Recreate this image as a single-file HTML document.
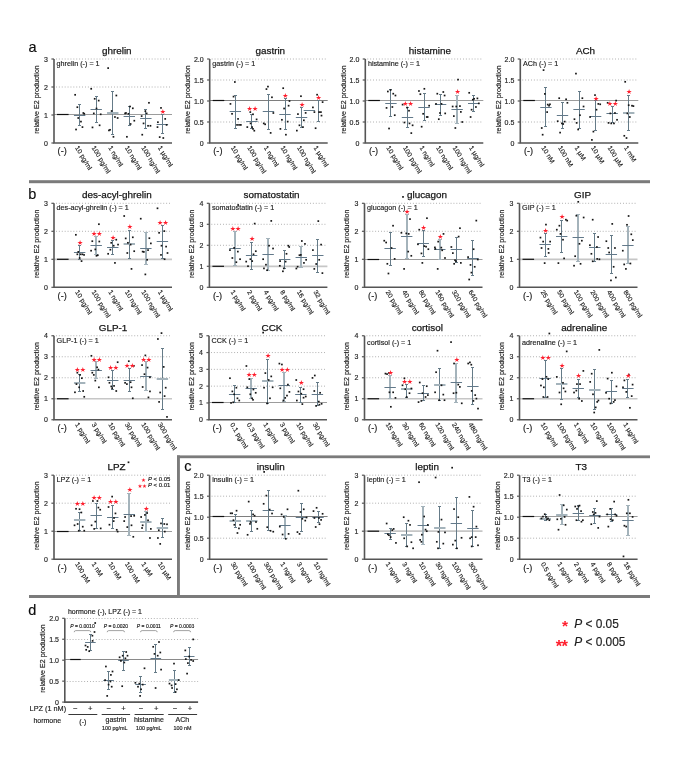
<!DOCTYPE html>
<html><head><meta charset="utf-8"><style>
html,body{margin:0;padding:0;background:#fff;}
svg{display:block;font-family:'Liberation Sans', Arial, Helvetica, sans-serif;}
text{stroke:#1a1a1a;stroke-width:0.16px;}
</style></head><body>
<svg width="685" height="765" viewBox="0 0 685 765">
<rect width="685" height="765" fill="#fff"/>
<rect x="29" y="180.2" width="621" height="3" fill="#7b7b7b"/>
<rect x="177" y="455.4" width="473" height="2.8" fill="#7b7b7b"/>
<rect x="177" y="455.4" width="2.9" height="142.5" fill="#7b7b7b"/>
<rect x="29" y="595" width="621" height="3" fill="#7b7b7b"/>
<text x="28.5" y="51.7" font-size="14.5" fill="#0a0a0a">a</text>
<text x="28.3" y="198.7" font-size="14.5" fill="#0a0a0a">b</text>
<text x="184.2" y="471.2" font-size="14.5" fill="#0a0a0a">c</text>
<text x="28.3" y="615.0" font-size="14.5" fill="#0a0a0a">d</text>
<text x="143.5" y="481.6" font-size="5.5" text-anchor="middle" fill="#ff1e2d" style="stroke:none" font-family="DejaVu Sans">★</text>
<text x="141.9" y="487.9" font-size="5.5" text-anchor="middle" fill="#ff1e2d" style="stroke:none" font-family="DejaVu Sans" letter-spacing="-0.5">★★</text>
<text x="147.9" y="481.4" font-size="6" fill="#1e1e1e"><tspan font-style="italic">P</tspan> &lt; 0.05</text>
<text x="147.9" y="487.4" font-size="6" fill="#1e1e1e"><tspan font-style="italic">P</tspan> &lt; 0.01</text>
<text x="564.9" y="631.0" font-size="15.5" font-weight="bold" text-anchor="middle" fill="#ff1e2d" style="stroke:none">*</text>
<text x="561.4" y="651.8" font-size="16.5" font-weight="bold" text-anchor="middle" fill="#ff1e2d" style="stroke:none" letter-spacing="-0.8">**</text>
<text x="574.2" y="628.2" font-size="11.9" fill="#1e1e1e"><tspan font-style="italic">P</tspan> &lt; 0.05</text>
<text x="574.2" y="645.7" font-size="11.9" fill="#1e1e1e"><tspan font-style="italic">P</tspan> &lt; 0.005</text>
<line x1="56.00" y1="87.00" x2="172.00" y2="87.00" stroke="#a0a0a0" stroke-width="0.9" stroke-dasharray="0.9 2.0"/>
<line x1="56.00" y1="59.00" x2="172.00" y2="59.00" stroke="#a0a0a0" stroke-width="0.9" stroke-dasharray="0.9 2.0"/>
<line x1="54.00" y1="114.50" x2="172.00" y2="114.50" stroke="#9c9c9c" stroke-width="1.1"/>
<line x1="57.00" y1="114.50" x2="68.60" y2="114.50" stroke="#111" stroke-width="1.2"/>
<line x1="79.50" y1="104.60" x2="79.50" y2="125.80" stroke="#657b88" stroke-width="1"/>
<line x1="78.00" y1="104.50" x2="81.00" y2="104.50" stroke="#657b88" stroke-width="1"/>
<line x1="78.00" y1="125.50" x2="81.00" y2="125.50" stroke="#657b88" stroke-width="1"/>
<line x1="73.95" y1="115.50" x2="85.35" y2="115.50" stroke="#62798a" stroke-width="1"/>
<rect x="74.30" y="93.95" width="1.70" height="1.70" fill="#161616"/>
<rect x="76.50" y="106.35" width="1.70" height="1.70" fill="#161616"/>
<rect x="77.40" y="117.15" width="1.70" height="1.70" fill="#161616"/>
<rect x="80.10" y="120.75" width="1.70" height="1.70" fill="#161616"/>
<rect x="81.60" y="126.25" width="1.70" height="1.70" fill="#161616"/>
<rect x="75.20" y="128.65" width="1.70" height="1.70" fill="#161616"/>
<rect x="82.50" y="112.15" width="1.70" height="1.70" fill="#161616"/>
<rect x="83.40" y="112.95" width="1.70" height="1.70" fill="#161616"/>
<line x1="96.50" y1="96.60" x2="96.50" y2="122.20" stroke="#657b88" stroke-width="1"/>
<line x1="95.00" y1="96.50" x2="98.00" y2="96.50" stroke="#657b88" stroke-width="1"/>
<line x1="95.00" y1="122.50" x2="98.00" y2="122.50" stroke="#657b88" stroke-width="1"/>
<line x1="90.50" y1="109.50" x2="101.90" y2="109.50" stroke="#62798a" stroke-width="1"/>
<rect x="90.35" y="87.95" width="1.70" height="1.70" fill="#161616"/>
<rect x="93.85" y="97.95" width="1.70" height="1.70" fill="#161616"/>
<rect x="97.85" y="99.75" width="1.70" height="1.70" fill="#161616"/>
<rect x="95.65" y="107.65" width="1.70" height="1.70" fill="#161616"/>
<rect x="92.95" y="112.55" width="1.70" height="1.70" fill="#161616"/>
<rect x="99.85" y="113.45" width="1.70" height="1.70" fill="#161616"/>
<rect x="91.65" y="126.55" width="1.70" height="1.70" fill="#161616"/>
<rect x="98.75" y="124.45" width="1.70" height="1.70" fill="#161616"/>
<line x1="112.50" y1="91.50" x2="112.50" y2="134.40" stroke="#657b88" stroke-width="1"/>
<line x1="111.00" y1="91.50" x2="114.00" y2="91.50" stroke="#657b88" stroke-width="1"/>
<line x1="111.00" y1="134.50" x2="114.00" y2="134.50" stroke="#657b88" stroke-width="1"/>
<line x1="107.05" y1="113.00" x2="118.45" y2="113.00" stroke="#a4b3bb" stroke-width="2"/>
<rect x="107.30" y="67.25" width="1.70" height="1.70" fill="#161616"/>
<rect x="115.50" y="94.65" width="1.70" height="1.70" fill="#161616"/>
<rect x="110.80" y="110.15" width="1.70" height="1.70" fill="#161616"/>
<rect x="114.10" y="116.15" width="1.70" height="1.70" fill="#161616"/>
<rect x="116.80" y="117.15" width="1.70" height="1.70" fill="#161616"/>
<rect x="109.20" y="128.95" width="1.70" height="1.70" fill="#161616"/>
<rect x="108.10" y="129.55" width="1.70" height="1.70" fill="#161616"/>
<rect x="112.60" y="135.95" width="1.70" height="1.70" fill="#161616"/>
<line x1="129.50" y1="106.50" x2="129.50" y2="125.30" stroke="#657b88" stroke-width="1"/>
<line x1="128.00" y1="106.50" x2="131.00" y2="106.50" stroke="#657b88" stroke-width="1"/>
<line x1="128.00" y1="125.50" x2="131.00" y2="125.50" stroke="#657b88" stroke-width="1"/>
<line x1="123.60" y1="116.50" x2="135.00" y2="116.50" stroke="#62798a" stroke-width="1"/>
<rect x="129.15" y="105.65" width="1.70" height="1.70" fill="#161616"/>
<rect x="131.95" y="107.45" width="1.70" height="1.70" fill="#161616"/>
<rect x="124.25" y="112.55" width="1.70" height="1.70" fill="#161616"/>
<rect x="127.55" y="112.95" width="1.70" height="1.70" fill="#161616"/>
<rect x="125.15" y="112.15" width="1.70" height="1.70" fill="#161616"/>
<rect x="133.45" y="119.85" width="1.70" height="1.70" fill="#161616"/>
<rect x="126.05" y="135.95" width="1.70" height="1.70" fill="#161616"/>
<rect x="129.75" y="123.15" width="1.70" height="1.70" fill="#161616"/>
<line x1="145.50" y1="109.40" x2="145.50" y2="128.00" stroke="#657b88" stroke-width="1"/>
<line x1="144.00" y1="109.50" x2="147.00" y2="109.50" stroke="#657b88" stroke-width="1"/>
<line x1="144.00" y1="128.50" x2="147.00" y2="128.50" stroke="#657b88" stroke-width="1"/>
<line x1="140.15" y1="118.50" x2="151.55" y2="118.50" stroke="#62798a" stroke-width="1"/>
<rect x="148.10" y="101.95" width="1.70" height="1.70" fill="#161616"/>
<rect x="144.50" y="110.35" width="1.70" height="1.70" fill="#161616"/>
<rect x="145.80" y="112.55" width="1.70" height="1.70" fill="#161616"/>
<rect x="140.80" y="115.25" width="1.70" height="1.70" fill="#161616"/>
<rect x="142.70" y="122.55" width="1.70" height="1.70" fill="#161616"/>
<rect x="147.20" y="124.95" width="1.70" height="1.70" fill="#161616"/>
<rect x="149.60" y="124.95" width="1.70" height="1.70" fill="#161616"/>
<rect x="141.40" y="133.85" width="1.70" height="1.70" fill="#161616"/>
<line x1="162.50" y1="114.90" x2="162.50" y2="133.80" stroke="#657b88" stroke-width="1"/>
<line x1="161.00" y1="114.50" x2="164.00" y2="114.50" stroke="#657b88" stroke-width="1"/>
<line x1="161.00" y1="133.50" x2="164.00" y2="133.50" stroke="#657b88" stroke-width="1"/>
<line x1="156.70" y1="124.50" x2="168.10" y2="124.50" stroke="#62798a" stroke-width="1"/>
<rect x="160.15" y="107.05" width="1.70" height="1.70" fill="#161616"/>
<rect x="164.35" y="118.05" width="1.70" height="1.70" fill="#161616"/>
<rect x="157.05" y="121.35" width="1.70" height="1.70" fill="#161616"/>
<rect x="165.75" y="124.05" width="1.70" height="1.70" fill="#161616"/>
<rect x="156.65" y="126.25" width="1.70" height="1.70" fill="#161616"/>
<rect x="158.85" y="136.25" width="1.70" height="1.70" fill="#161616"/>
<rect x="162.45" y="137.15" width="1.70" height="1.70" fill="#161616"/>
<text x="162.40" y="114.38" font-size="6.9" text-anchor="middle" fill="#ff1e2d" style="stroke:none" font-family="DejaVu Sans" letter-spacing="-0.9">★</text>
<path d="M54.00,59.00 V143.00 H172.00" fill="none" stroke="#555555" stroke-width="1.6"/>
<line x1="51.40" y1="143.00" x2="54.00" y2="143.00" stroke="#555555" stroke-width="1.2"/>
<text x="48.00" y="145.50" font-size="7" text-anchor="end" fill="#2a2a2a" >0</text>
<line x1="51.40" y1="115.00" x2="54.00" y2="115.00" stroke="#555555" stroke-width="1.2"/>
<text x="48.00" y="117.50" font-size="7" text-anchor="end" fill="#2a2a2a" >1</text>
<line x1="51.40" y1="87.00" x2="54.00" y2="87.00" stroke="#555555" stroke-width="1.2"/>
<text x="48.00" y="89.50" font-size="7" text-anchor="end" fill="#2a2a2a" >2</text>
<line x1="51.40" y1="59.00" x2="54.00" y2="59.00" stroke="#555555" stroke-width="1.2"/>
<text x="48.00" y="61.50" font-size="7" text-anchor="end" fill="#2a2a2a" >3</text>
<text transform="translate(38.90,99.50) rotate(-90)" font-size="7.1" text-anchor="middle" fill="#1e1e1e">relative E2 production</text>
<text x="116.80" y="53.90" font-size="9.9" text-anchor="middle" fill="#111" style="stroke-width:0.25px">ghrelin</text>
<text transform="translate(56.60,66.10) scale(0.93,1)" font-size="7.75" fill="#1e1e1e">ghrelin (-) = 1</text>
<text x="62.20" y="154.30" font-size="9.2" text-anchor="middle" fill="#1e1e1e" >(-)</text>
<text transform="translate(75.05,147.70) scale(0.9,1) rotate(57)" font-size="7.15" fill="#1e1e1e">10 pg/ml</text>
<text transform="translate(91.60,147.70) scale(0.9,1) rotate(57)" font-size="7.15" fill="#1e1e1e">100 pg/ml</text>
<text transform="translate(108.15,147.70) scale(0.9,1) rotate(57)" font-size="7.15" fill="#1e1e1e">1 ng/ml</text>
<text transform="translate(124.70,147.70) scale(0.9,1) rotate(57)" font-size="7.15" fill="#1e1e1e">10 ng/ml</text>
<text transform="translate(141.25,147.70) scale(0.9,1) rotate(57)" font-size="7.15" fill="#1e1e1e">100 ng/ml</text>
<text transform="translate(157.80,147.70) scale(0.9,1) rotate(57)" font-size="7.15" fill="#1e1e1e">1 µg/ml</text>
<line x1="211.70" y1="122.00" x2="327.70" y2="122.00" stroke="#a0a0a0" stroke-width="0.9" stroke-dasharray="0.9 2.0"/>
<line x1="211.70" y1="80.00" x2="327.70" y2="80.00" stroke="#a0a0a0" stroke-width="0.9" stroke-dasharray="0.9 2.0"/>
<line x1="211.70" y1="59.00" x2="327.70" y2="59.00" stroke="#a0a0a0" stroke-width="0.9" stroke-dasharray="0.9 2.0"/>
<line x1="209.70" y1="100.50" x2="327.70" y2="100.50" stroke="#7e7e7e" stroke-width="1.0"/>
<line x1="212.70" y1="100.50" x2="224.30" y2="100.50" stroke="#111" stroke-width="1.2"/>
<line x1="235.50" y1="95.10" x2="235.50" y2="128.40" stroke="#657b88" stroke-width="1"/>
<line x1="234.00" y1="95.50" x2="237.00" y2="95.50" stroke="#657b88" stroke-width="1"/>
<line x1="234.00" y1="128.50" x2="237.00" y2="128.50" stroke="#657b88" stroke-width="1"/>
<line x1="229.65" y1="111.50" x2="241.05" y2="111.50" stroke="#62798a" stroke-width="1"/>
<rect x="234.00" y="81.15" width="1.70" height="1.70" fill="#161616"/>
<rect x="232.70" y="95.75" width="1.70" height="1.70" fill="#161616"/>
<rect x="229.60" y="103.05" width="1.70" height="1.70" fill="#161616"/>
<rect x="231.20" y="112.95" width="1.70" height="1.70" fill="#161616"/>
<rect x="237.20" y="118.05" width="1.70" height="1.70" fill="#161616"/>
<rect x="238.20" y="124.05" width="1.70" height="1.70" fill="#161616"/>
<rect x="240.00" y="124.05" width="1.70" height="1.70" fill="#161616"/>
<rect x="236.20" y="124.05" width="1.70" height="1.70" fill="#161616"/>
<line x1="251.50" y1="114.30" x2="251.50" y2="128.40" stroke="#657b88" stroke-width="1"/>
<line x1="250.00" y1="114.50" x2="253.00" y2="114.50" stroke="#657b88" stroke-width="1"/>
<line x1="250.00" y1="128.50" x2="253.00" y2="128.50" stroke="#657b88" stroke-width="1"/>
<line x1="246.20" y1="121.50" x2="257.60" y2="121.50" stroke="#62798a" stroke-width="1"/>
<rect x="249.45" y="111.25" width="1.70" height="1.70" fill="#161616"/>
<rect x="252.15" y="113.45" width="1.70" height="1.70" fill="#161616"/>
<rect x="255.75" y="118.55" width="1.70" height="1.70" fill="#161616"/>
<rect x="246.45" y="126.25" width="1.70" height="1.70" fill="#161616"/>
<rect x="251.25" y="126.25" width="1.70" height="1.70" fill="#161616"/>
<rect x="252.15" y="128.05" width="1.70" height="1.70" fill="#161616"/>
<rect x="253.45" y="129.85" width="1.70" height="1.70" fill="#161616"/>
<rect x="249.75" y="122.55" width="1.70" height="1.70" fill="#161616"/>
<text x="251.90" y="111.28" font-size="6.9" text-anchor="middle" fill="#ff1e2d" style="stroke:none" font-family="DejaVu Sans" letter-spacing="-0.9">★★</text>
<line x1="268.50" y1="94.20" x2="268.50" y2="129.30" stroke="#657b88" stroke-width="1"/>
<line x1="267.00" y1="94.50" x2="270.00" y2="94.50" stroke="#657b88" stroke-width="1"/>
<line x1="267.00" y1="129.50" x2="270.00" y2="129.50" stroke="#657b88" stroke-width="1"/>
<line x1="262.75" y1="111.50" x2="274.15" y2="111.50" stroke="#62798a" stroke-width="1"/>
<rect x="267.10" y="85.75" width="1.70" height="1.70" fill="#161616"/>
<rect x="265.60" y="88.25" width="1.70" height="1.70" fill="#161616"/>
<rect x="271.10" y="96.45" width="1.70" height="1.70" fill="#161616"/>
<rect x="272.50" y="112.15" width="1.70" height="1.70" fill="#161616"/>
<rect x="262.90" y="122.55" width="1.70" height="1.70" fill="#161616"/>
<rect x="264.30" y="123.45" width="1.70" height="1.70" fill="#161616"/>
<rect x="269.80" y="132.05" width="1.70" height="1.70" fill="#161616"/>
<line x1="285.50" y1="98.80" x2="285.50" y2="129.30" stroke="#657b88" stroke-width="1"/>
<line x1="284.00" y1="98.50" x2="287.00" y2="98.50" stroke="#657b88" stroke-width="1"/>
<line x1="284.00" y1="129.50" x2="287.00" y2="129.50" stroke="#657b88" stroke-width="1"/>
<line x1="279.30" y1="114.50" x2="290.70" y2="114.50" stroke="#62798a" stroke-width="1"/>
<rect x="282.35" y="87.35" width="1.70" height="1.70" fill="#161616"/>
<rect x="288.65" y="100.15" width="1.70" height="1.70" fill="#161616"/>
<rect x="287.75" y="104.85" width="1.70" height="1.70" fill="#161616"/>
<rect x="283.25" y="107.65" width="1.70" height="1.70" fill="#161616"/>
<rect x="281.05" y="118.95" width="1.70" height="1.70" fill="#161616"/>
<rect x="286.85" y="120.75" width="1.70" height="1.70" fill="#161616"/>
<rect x="279.55" y="128.05" width="1.70" height="1.70" fill="#161616"/>
<rect x="285.05" y="133.85" width="1.70" height="1.70" fill="#161616"/>
<text x="285.00" y="97.98" font-size="6.9" text-anchor="middle" fill="#ff1e2d" style="stroke:none" font-family="DejaVu Sans" letter-spacing="-0.9">★</text>
<line x1="301.50" y1="107.40" x2="301.50" y2="127.60" stroke="#657b88" stroke-width="1"/>
<line x1="300.00" y1="107.50" x2="303.00" y2="107.50" stroke="#657b88" stroke-width="1"/>
<line x1="300.00" y1="127.50" x2="303.00" y2="127.50" stroke="#657b88" stroke-width="1"/>
<line x1="295.85" y1="117.50" x2="307.25" y2="117.50" stroke="#62798a" stroke-width="1"/>
<rect x="300.10" y="95.35" width="1.70" height="1.70" fill="#161616"/>
<rect x="297.10" y="113.25" width="1.70" height="1.70" fill="#161616"/>
<rect x="304.80" y="112.05" width="1.70" height="1.70" fill="#161616"/>
<rect x="303.00" y="119.45" width="1.70" height="1.70" fill="#161616"/>
<rect x="298.60" y="124.45" width="1.70" height="1.70" fill="#161616"/>
<rect x="302.10" y="126.25" width="1.70" height="1.70" fill="#161616"/>
<rect x="296.00" y="129.75" width="1.70" height="1.70" fill="#161616"/>
<text x="301.55" y="106.58" font-size="6.9" text-anchor="middle" fill="#ff1e2d" style="stroke:none" font-family="DejaVu Sans" letter-spacing="-0.9">★</text>
<line x1="318.50" y1="100.50" x2="318.50" y2="121.50" stroke="#657b88" stroke-width="1"/>
<line x1="317.00" y1="100.50" x2="320.00" y2="100.50" stroke="#657b88" stroke-width="1"/>
<line x1="317.00" y1="121.50" x2="320.00" y2="121.50" stroke="#657b88" stroke-width="1"/>
<line x1="303.70" y1="110.50" x2="315.10" y2="110.50" stroke="#62798a" stroke-width="1"/>
<rect x="316.25" y="93.85" width="1.70" height="1.70" fill="#161616"/>
<rect x="321.75" y="101.25" width="1.70" height="1.70" fill="#161616"/>
<rect x="312.05" y="106.55" width="1.70" height="1.70" fill="#161616"/>
<rect x="313.55" y="111.25" width="1.70" height="1.70" fill="#161616"/>
<rect x="318.25" y="111.25" width="1.70" height="1.70" fill="#161616"/>
<rect x="320.05" y="111.25" width="1.70" height="1.70" fill="#161616"/>
<rect x="320.65" y="114.75" width="1.70" height="1.70" fill="#161616"/>
<rect x="314.75" y="127.35" width="1.70" height="1.70" fill="#161616"/>
<text x="318.10" y="99.88" font-size="6.9" text-anchor="middle" fill="#ff1e2d" style="stroke:none" font-family="DejaVu Sans" letter-spacing="-0.9">★</text>
<path d="M209.70,59.00 V143.00 H327.70" fill="none" stroke="#555555" stroke-width="1.6"/>
<line x1="207.10" y1="143.00" x2="209.70" y2="143.00" stroke="#555555" stroke-width="1.2"/>
<text x="203.70" y="145.50" font-size="7" text-anchor="end" fill="#2a2a2a" >0</text>
<line x1="207.10" y1="122.00" x2="209.70" y2="122.00" stroke="#555555" stroke-width="1.2"/>
<text x="203.70" y="124.50" font-size="7" text-anchor="end" fill="#2a2a2a" >0.5</text>
<line x1="207.10" y1="101.00" x2="209.70" y2="101.00" stroke="#555555" stroke-width="1.2"/>
<text x="203.70" y="103.50" font-size="7" text-anchor="end" fill="#2a2a2a" >1.0</text>
<line x1="207.10" y1="80.00" x2="209.70" y2="80.00" stroke="#555555" stroke-width="1.2"/>
<text x="203.70" y="82.50" font-size="7" text-anchor="end" fill="#2a2a2a" >1.5</text>
<line x1="207.10" y1="59.00" x2="209.70" y2="59.00" stroke="#555555" stroke-width="1.2"/>
<text x="203.70" y="61.50" font-size="7" text-anchor="end" fill="#2a2a2a" >2.0</text>
<text transform="translate(190.40,99.50) rotate(-90)" font-size="7.1" text-anchor="middle" fill="#1e1e1e">relative E2 production</text>
<text x="270.30" y="53.90" font-size="9.9" text-anchor="middle" fill="#111" style="stroke-width:0.25px">gastrin</text>
<text transform="translate(212.30,66.10) scale(0.93,1)" font-size="7.75" fill="#1e1e1e">gastrin (-) = 1</text>
<text x="217.90" y="154.30" font-size="9.2" text-anchor="middle" fill="#1e1e1e" >(-)</text>
<text transform="translate(230.75,147.70) scale(0.9,1) rotate(57)" font-size="7.15" fill="#1e1e1e">10 pg/ml</text>
<text transform="translate(247.30,147.70) scale(0.9,1) rotate(57)" font-size="7.15" fill="#1e1e1e">100 pg/ml</text>
<text transform="translate(263.85,147.70) scale(0.9,1) rotate(57)" font-size="7.15" fill="#1e1e1e">1 ng/ml</text>
<text transform="translate(280.40,147.70) scale(0.9,1) rotate(57)" font-size="7.15" fill="#1e1e1e">10 ng/ml</text>
<text transform="translate(296.95,147.70) scale(0.9,1) rotate(57)" font-size="7.15" fill="#1e1e1e">100 ng/ml</text>
<text transform="translate(313.50,147.70) scale(0.9,1) rotate(57)" font-size="7.15" fill="#1e1e1e">1 µg/ml</text>
<line x1="367.30" y1="122.00" x2="483.30" y2="122.00" stroke="#a0a0a0" stroke-width="0.9" stroke-dasharray="0.9 2.0"/>
<line x1="367.30" y1="80.00" x2="483.30" y2="80.00" stroke="#a0a0a0" stroke-width="0.9" stroke-dasharray="0.9 2.0"/>
<line x1="367.30" y1="59.00" x2="483.30" y2="59.00" stroke="#a0a0a0" stroke-width="0.9" stroke-dasharray="0.9 2.0"/>
<line x1="365.30" y1="100.50" x2="483.30" y2="100.50" stroke="#9c9c9c" stroke-width="1.1"/>
<line x1="368.30" y1="100.50" x2="379.90" y2="100.50" stroke="#111" stroke-width="1.2"/>
<line x1="390.50" y1="89.70" x2="390.50" y2="116.50" stroke="#657b88" stroke-width="1"/>
<line x1="389.00" y1="89.50" x2="392.00" y2="89.50" stroke="#657b88" stroke-width="1"/>
<line x1="389.00" y1="116.50" x2="392.00" y2="116.50" stroke="#657b88" stroke-width="1"/>
<line x1="385.25" y1="103.50" x2="396.65" y2="103.50" stroke="#62798a" stroke-width="1"/>
<rect x="387.00" y="90.65" width="1.70" height="1.70" fill="#161616"/>
<rect x="389.70" y="89.15" width="1.70" height="1.70" fill="#161616"/>
<rect x="392.40" y="92.85" width="1.70" height="1.70" fill="#161616"/>
<rect x="394.60" y="94.65" width="1.70" height="1.70" fill="#161616"/>
<rect x="385.70" y="107.05" width="1.70" height="1.70" fill="#161616"/>
<rect x="391.50" y="106.15" width="1.70" height="1.70" fill="#161616"/>
<rect x="393.90" y="114.35" width="1.70" height="1.70" fill="#161616"/>
<rect x="388.20" y="127.65" width="1.70" height="1.70" fill="#161616"/>
<line x1="407.50" y1="107.90" x2="407.50" y2="127.10" stroke="#657b88" stroke-width="1"/>
<line x1="406.00" y1="107.50" x2="409.00" y2="107.50" stroke="#657b88" stroke-width="1"/>
<line x1="406.00" y1="127.50" x2="409.00" y2="127.50" stroke="#657b88" stroke-width="1"/>
<line x1="401.80" y1="117.50" x2="413.20" y2="117.50" stroke="#62798a" stroke-width="1"/>
<rect x="401.75" y="103.75" width="1.70" height="1.70" fill="#161616"/>
<rect x="406.25" y="106.75" width="1.70" height="1.70" fill="#161616"/>
<rect x="408.15" y="109.85" width="1.70" height="1.70" fill="#161616"/>
<rect x="403.55" y="121.65" width="1.70" height="1.70" fill="#161616"/>
<rect x="408.65" y="122.55" width="1.70" height="1.70" fill="#161616"/>
<rect x="411.75" y="124.45" width="1.70" height="1.70" fill="#161616"/>
<rect x="410.45" y="132.25" width="1.70" height="1.70" fill="#161616"/>
<text x="407.50" y="106.38" font-size="6.9" text-anchor="middle" fill="#ff1e2d" style="stroke:none" font-family="DejaVu Sans" letter-spacing="-0.9">★★</text>
<line x1="424.50" y1="93.30" x2="424.50" y2="120.70" stroke="#657b88" stroke-width="1"/>
<line x1="423.00" y1="93.50" x2="426.00" y2="93.50" stroke="#657b88" stroke-width="1"/>
<line x1="423.00" y1="120.50" x2="426.00" y2="120.50" stroke="#657b88" stroke-width="1"/>
<line x1="418.35" y1="107.50" x2="429.75" y2="107.50" stroke="#62798a" stroke-width="1"/>
<rect x="418.10" y="90.15" width="1.70" height="1.70" fill="#161616"/>
<rect x="423.50" y="87.95" width="1.70" height="1.70" fill="#161616"/>
<rect x="419.50" y="93.35" width="1.70" height="1.70" fill="#161616"/>
<rect x="428.30" y="104.85" width="1.70" height="1.70" fill="#161616"/>
<rect x="422.30" y="112.95" width="1.70" height="1.70" fill="#161616"/>
<rect x="425.90" y="116.15" width="1.70" height="1.70" fill="#161616"/>
<rect x="426.80" y="116.15" width="1.70" height="1.70" fill="#161616"/>
<rect x="420.80" y="125.85" width="1.70" height="1.70" fill="#161616"/>
<line x1="440.50" y1="94.20" x2="440.50" y2="115.20" stroke="#657b88" stroke-width="1"/>
<line x1="439.00" y1="94.50" x2="442.00" y2="94.50" stroke="#657b88" stroke-width="1"/>
<line x1="439.00" y1="115.50" x2="442.00" y2="115.50" stroke="#657b88" stroke-width="1"/>
<line x1="434.90" y1="104.50" x2="446.30" y2="104.50" stroke="#62798a" stroke-width="1"/>
<rect x="436.45" y="92.85" width="1.70" height="1.70" fill="#161616"/>
<rect x="442.45" y="91.15" width="1.70" height="1.70" fill="#161616"/>
<rect x="443.75" y="94.65" width="1.70" height="1.70" fill="#161616"/>
<rect x="435.15" y="103.05" width="1.70" height="1.70" fill="#161616"/>
<rect x="440.65" y="103.05" width="1.70" height="1.70" fill="#161616"/>
<rect x="439.15" y="112.15" width="1.70" height="1.70" fill="#161616"/>
<rect x="444.35" y="112.55" width="1.70" height="1.70" fill="#161616"/>
<rect x="437.95" y="118.35" width="1.70" height="1.70" fill="#161616"/>
<line x1="457.00" y1="95.10" x2="457.00" y2="123.40" stroke="#a4b3bb" stroke-width="2"/>
<line x1="455.00" y1="95.50" x2="459.00" y2="95.50" stroke="#a4b3bb" stroke-width="1"/>
<line x1="455.00" y1="123.50" x2="459.00" y2="123.50" stroke="#a4b3bb" stroke-width="1"/>
<line x1="451.45" y1="109.50" x2="462.85" y2="109.50" stroke="#62798a" stroke-width="1"/>
<rect x="457.20" y="78.75" width="1.70" height="1.70" fill="#161616"/>
<rect x="451.80" y="105.65" width="1.70" height="1.70" fill="#161616"/>
<rect x="455.40" y="105.65" width="1.70" height="1.70" fill="#161616"/>
<rect x="459.10" y="105.25" width="1.70" height="1.70" fill="#161616"/>
<rect x="460.00" y="111.05" width="1.70" height="1.70" fill="#161616"/>
<rect x="453.00" y="115.25" width="1.70" height="1.70" fill="#161616"/>
<rect x="461.40" y="121.15" width="1.70" height="1.70" fill="#161616"/>
<rect x="454.50" y="127.15" width="1.70" height="1.70" fill="#161616"/>
<text x="457.15" y="94.48" font-size="6.9" text-anchor="middle" fill="#ff1e2d" style="stroke:none" font-family="DejaVu Sans" letter-spacing="-0.9">★</text>
<line x1="473.50" y1="95.50" x2="473.50" y2="111.20" stroke="#657b88" stroke-width="1"/>
<line x1="472.00" y1="95.50" x2="475.00" y2="95.50" stroke="#657b88" stroke-width="1"/>
<line x1="472.00" y1="111.50" x2="475.00" y2="111.50" stroke="#657b88" stroke-width="1"/>
<line x1="468.00" y1="103.50" x2="479.40" y2="103.50" stroke="#62798a" stroke-width="1"/>
<rect x="468.35" y="91.95" width="1.70" height="1.70" fill="#161616"/>
<rect x="473.25" y="97.95" width="1.70" height="1.70" fill="#161616"/>
<rect x="476.55" y="97.55" width="1.70" height="1.70" fill="#161616"/>
<rect x="471.95" y="98.85" width="1.70" height="1.70" fill="#161616"/>
<rect x="477.95" y="102.55" width="1.70" height="1.70" fill="#161616"/>
<rect x="475.05" y="106.15" width="1.70" height="1.70" fill="#161616"/>
<rect x="470.75" y="108.85" width="1.70" height="1.70" fill="#161616"/>
<rect x="469.75" y="116.15" width="1.70" height="1.70" fill="#161616"/>
<path d="M365.30,59.00 V143.00 H483.30" fill="none" stroke="#555555" stroke-width="1.6"/>
<line x1="362.70" y1="143.00" x2="365.30" y2="143.00" stroke="#555555" stroke-width="1.2"/>
<text x="359.30" y="145.50" font-size="7" text-anchor="end" fill="#2a2a2a" >0</text>
<line x1="362.70" y1="122.00" x2="365.30" y2="122.00" stroke="#555555" stroke-width="1.2"/>
<text x="359.30" y="124.50" font-size="7" text-anchor="end" fill="#2a2a2a" >0.5</text>
<line x1="362.70" y1="101.00" x2="365.30" y2="101.00" stroke="#555555" stroke-width="1.2"/>
<text x="359.30" y="103.50" font-size="7" text-anchor="end" fill="#2a2a2a" >1.0</text>
<line x1="362.70" y1="80.00" x2="365.30" y2="80.00" stroke="#555555" stroke-width="1.2"/>
<text x="359.30" y="82.50" font-size="7" text-anchor="end" fill="#2a2a2a" >1.5</text>
<line x1="362.70" y1="59.00" x2="365.30" y2="59.00" stroke="#555555" stroke-width="1.2"/>
<text x="359.30" y="61.50" font-size="7" text-anchor="end" fill="#2a2a2a" >2.0</text>
<text transform="translate(346.00,99.50) rotate(-90)" font-size="7.1" text-anchor="middle" fill="#1e1e1e">relative E2 production</text>
<text x="429.90" y="53.90" font-size="9.9" text-anchor="middle" fill="#111" style="stroke-width:0.25px">histamine</text>
<text transform="translate(367.90,66.10) scale(0.93,1)" font-size="7.75" fill="#1e1e1e">histamine (-) = 1</text>
<text x="373.50" y="154.30" font-size="9.2" text-anchor="middle" fill="#1e1e1e" >(-)</text>
<text transform="translate(386.35,147.70) scale(0.9,1) rotate(57)" font-size="7.15" fill="#1e1e1e">10 pg/ml</text>
<text transform="translate(402.90,147.70) scale(0.9,1) rotate(57)" font-size="7.15" fill="#1e1e1e">100 pg/ml</text>
<text transform="translate(419.45,147.70) scale(0.9,1) rotate(57)" font-size="7.15" fill="#1e1e1e">1 ng/ml</text>
<text transform="translate(436.00,147.70) scale(0.9,1) rotate(57)" font-size="7.15" fill="#1e1e1e">10 ng/ml</text>
<text transform="translate(452.55,147.70) scale(0.9,1) rotate(57)" font-size="7.15" fill="#1e1e1e">100 ng/ml</text>
<text transform="translate(469.10,147.70) scale(0.9,1) rotate(57)" font-size="7.15" fill="#1e1e1e">1 µg/ml</text>
<line x1="522.30" y1="122.00" x2="638.30" y2="122.00" stroke="#a0a0a0" stroke-width="0.9" stroke-dasharray="0.9 2.0"/>
<line x1="522.30" y1="80.00" x2="638.30" y2="80.00" stroke="#a0a0a0" stroke-width="0.9" stroke-dasharray="0.9 2.0"/>
<line x1="522.30" y1="59.00" x2="638.30" y2="59.00" stroke="#a0a0a0" stroke-width="0.9" stroke-dasharray="0.9 2.0"/>
<line x1="520.30" y1="100.50" x2="638.30" y2="100.50" stroke="#9c9c9c" stroke-width="1.1"/>
<line x1="523.30" y1="100.50" x2="534.90" y2="100.50" stroke="#111" stroke-width="1.2"/>
<line x1="545.50" y1="87.30" x2="545.50" y2="126.70" stroke="#657b88" stroke-width="1"/>
<line x1="544.00" y1="87.50" x2="547.00" y2="87.50" stroke="#657b88" stroke-width="1"/>
<line x1="544.00" y1="126.50" x2="547.00" y2="126.50" stroke="#657b88" stroke-width="1"/>
<line x1="540.25" y1="107.50" x2="551.65" y2="107.50" stroke="#62798a" stroke-width="1"/>
<rect x="542.70" y="69.25" width="1.70" height="1.70" fill="#161616"/>
<rect x="544.00" y="93.05" width="1.70" height="1.70" fill="#161616"/>
<rect x="546.90" y="103.75" width="1.70" height="1.70" fill="#161616"/>
<rect x="548.20" y="104.85" width="1.70" height="1.70" fill="#161616"/>
<rect x="546.30" y="111.25" width="1.70" height="1.70" fill="#161616"/>
<rect x="540.90" y="127.15" width="1.70" height="1.70" fill="#161616"/>
<rect x="541.80" y="133.85" width="1.70" height="1.70" fill="#161616"/>
<rect x="549.10" y="103.45" width="1.70" height="1.70" fill="#161616"/>
<line x1="562.50" y1="102.40" x2="562.50" y2="128.40" stroke="#657b88" stroke-width="1"/>
<line x1="561.00" y1="102.50" x2="564.00" y2="102.50" stroke="#657b88" stroke-width="1"/>
<line x1="561.00" y1="128.50" x2="564.00" y2="128.50" stroke="#657b88" stroke-width="1"/>
<line x1="556.80" y1="115.50" x2="568.20" y2="115.50" stroke="#62798a" stroke-width="1"/>
<rect x="558.35" y="97.35" width="1.70" height="1.70" fill="#161616"/>
<rect x="565.25" y="98.45" width="1.70" height="1.70" fill="#161616"/>
<rect x="566.55" y="101.95" width="1.70" height="1.70" fill="#161616"/>
<rect x="556.85" y="120.35" width="1.70" height="1.70" fill="#161616"/>
<rect x="563.85" y="120.75" width="1.70" height="1.70" fill="#161616"/>
<rect x="562.35" y="123.15" width="1.70" height="1.70" fill="#161616"/>
<rect x="561.05" y="122.55" width="1.70" height="1.70" fill="#161616"/>
<rect x="559.25" y="131.75" width="1.70" height="1.70" fill="#161616"/>
<line x1="579.50" y1="91.50" x2="579.50" y2="128.90" stroke="#657b88" stroke-width="1"/>
<line x1="578.00" y1="91.50" x2="581.00" y2="91.50" stroke="#657b88" stroke-width="1"/>
<line x1="578.00" y1="128.50" x2="581.00" y2="128.50" stroke="#657b88" stroke-width="1"/>
<line x1="573.35" y1="109.50" x2="584.75" y2="109.50" stroke="#62798a" stroke-width="1"/>
<rect x="575.10" y="72.75" width="1.70" height="1.70" fill="#161616"/>
<rect x="581.50" y="97.35" width="1.70" height="1.70" fill="#161616"/>
<rect x="582.70" y="105.65" width="1.70" height="1.70" fill="#161616"/>
<rect x="579.10" y="114.35" width="1.70" height="1.70" fill="#161616"/>
<rect x="573.60" y="118.35" width="1.70" height="1.70" fill="#161616"/>
<rect x="575.80" y="122.05" width="1.70" height="1.70" fill="#161616"/>
<rect x="577.30" y="128.65" width="1.70" height="1.70" fill="#161616"/>
<line x1="595.50" y1="100.60" x2="595.50" y2="130.40" stroke="#657b88" stroke-width="1"/>
<line x1="594.00" y1="100.50" x2="597.00" y2="100.50" stroke="#657b88" stroke-width="1"/>
<line x1="594.00" y1="130.50" x2="597.00" y2="130.50" stroke="#657b88" stroke-width="1"/>
<line x1="589.90" y1="116.50" x2="601.30" y2="116.50" stroke="#62798a" stroke-width="1"/>
<rect x="594.15" y="94.25" width="1.70" height="1.70" fill="#161616"/>
<rect x="597.45" y="103.05" width="1.70" height="1.70" fill="#161616"/>
<rect x="599.35" y="103.45" width="1.70" height="1.70" fill="#161616"/>
<rect x="595.65" y="108.85" width="1.70" height="1.70" fill="#161616"/>
<rect x="589.25" y="116.15" width="1.70" height="1.70" fill="#161616"/>
<rect x="592.55" y="130.75" width="1.70" height="1.70" fill="#161616"/>
<rect x="591.05" y="139.05" width="1.70" height="1.70" fill="#161616"/>
<text x="595.60" y="100.88" font-size="6.9" text-anchor="middle" fill="#ff1e2d" style="stroke:none" font-family="DejaVu Sans" letter-spacing="-0.9">★</text>
<line x1="612.50" y1="106.10" x2="612.50" y2="122.20" stroke="#657b88" stroke-width="1"/>
<line x1="611.00" y1="106.50" x2="614.00" y2="106.50" stroke="#657b88" stroke-width="1"/>
<line x1="611.00" y1="122.50" x2="614.00" y2="122.50" stroke="#657b88" stroke-width="1"/>
<line x1="606.45" y1="113.50" x2="617.85" y2="113.50" stroke="#62798a" stroke-width="1"/>
<rect x="606.80" y="101.95" width="1.70" height="1.70" fill="#161616"/>
<rect x="615.30" y="99.75" width="1.70" height="1.70" fill="#161616"/>
<rect x="609.50" y="112.55" width="1.70" height="1.70" fill="#161616"/>
<rect x="614.10" y="112.15" width="1.70" height="1.70" fill="#161616"/>
<rect x="607.70" y="122.05" width="1.70" height="1.70" fill="#161616"/>
<rect x="610.40" y="122.55" width="1.70" height="1.70" fill="#161616"/>
<rect x="613.10" y="122.55" width="1.70" height="1.70" fill="#161616"/>
<rect x="616.20" y="118.95" width="1.70" height="1.70" fill="#161616"/>
<text x="612.15" y="105.88" font-size="6.9" text-anchor="middle" fill="#ff1e2d" style="stroke:none" font-family="DejaVu Sans" letter-spacing="-0.9">★★</text>
<line x1="628.50" y1="95.50" x2="628.50" y2="130.40" stroke="#657b88" stroke-width="1"/>
<line x1="627.00" y1="95.50" x2="630.00" y2="95.50" stroke="#657b88" stroke-width="1"/>
<line x1="627.00" y1="130.50" x2="630.00" y2="130.50" stroke="#657b88" stroke-width="1"/>
<line x1="623.00" y1="113.00" x2="634.40" y2="113.00" stroke="#a4b3bb" stroke-width="2"/>
<rect x="624.35" y="80.95" width="1.70" height="1.70" fill="#161616"/>
<rect x="627.85" y="104.35" width="1.70" height="1.70" fill="#161616"/>
<rect x="631.15" y="104.85" width="1.70" height="1.70" fill="#161616"/>
<rect x="632.55" y="105.25" width="1.70" height="1.70" fill="#161616"/>
<rect x="626.55" y="112.55" width="1.70" height="1.70" fill="#161616"/>
<rect x="628.95" y="116.15" width="1.70" height="1.70" fill="#161616"/>
<rect x="623.45" y="134.95" width="1.70" height="1.70" fill="#161616"/>
<rect x="625.65" y="137.15" width="1.70" height="1.70" fill="#161616"/>
<text x="628.70" y="93.98" font-size="6.9" text-anchor="middle" fill="#ff1e2d" style="stroke:none" font-family="DejaVu Sans" letter-spacing="-0.9">★</text>
<path d="M520.30,59.00 V143.00 H638.30" fill="none" stroke="#555555" stroke-width="1.6"/>
<line x1="517.70" y1="143.00" x2="520.30" y2="143.00" stroke="#555555" stroke-width="1.2"/>
<text x="514.30" y="145.50" font-size="7" text-anchor="end" fill="#2a2a2a" >0</text>
<line x1="517.70" y1="122.00" x2="520.30" y2="122.00" stroke="#555555" stroke-width="1.2"/>
<text x="514.30" y="124.50" font-size="7" text-anchor="end" fill="#2a2a2a" >0.5</text>
<line x1="517.70" y1="101.00" x2="520.30" y2="101.00" stroke="#555555" stroke-width="1.2"/>
<text x="514.30" y="103.50" font-size="7" text-anchor="end" fill="#2a2a2a" >1.0</text>
<line x1="517.70" y1="80.00" x2="520.30" y2="80.00" stroke="#555555" stroke-width="1.2"/>
<text x="514.30" y="82.50" font-size="7" text-anchor="end" fill="#2a2a2a" >1.5</text>
<line x1="517.70" y1="59.00" x2="520.30" y2="59.00" stroke="#555555" stroke-width="1.2"/>
<text x="514.30" y="61.50" font-size="7" text-anchor="end" fill="#2a2a2a" >2.0</text>
<text transform="translate(501.00,99.50) rotate(-90)" font-size="7.1" text-anchor="middle" fill="#1e1e1e">relative E2 production</text>
<text x="585.50" y="53.90" font-size="9.9" text-anchor="middle" fill="#111" style="stroke-width:0.25px">ACh</text>
<text transform="translate(522.90,66.10) scale(0.93,1)" font-size="7.75" fill="#1e1e1e">ACh (-) = 1</text>
<text x="528.50" y="154.30" font-size="9.2" text-anchor="middle" fill="#1e1e1e" >(-)</text>
<text transform="translate(541.35,147.70) scale(0.9,1) rotate(57)" font-size="7.15" fill="#1e1e1e">10 nM</text>
<text transform="translate(557.90,147.70) scale(0.9,1) rotate(57)" font-size="7.15" fill="#1e1e1e">100 nM</text>
<text transform="translate(574.45,147.70) scale(0.9,1) rotate(57)" font-size="7.15" fill="#1e1e1e">1 µM</text>
<text transform="translate(591.00,147.70) scale(0.9,1) rotate(57)" font-size="7.15" fill="#1e1e1e">10 µM</text>
<text transform="translate(607.55,147.70) scale(0.9,1) rotate(57)" font-size="7.15" fill="#1e1e1e">100 µM</text>
<text transform="translate(624.10,147.70) scale(0.9,1) rotate(57)" font-size="7.15" fill="#1e1e1e">1 mM</text>
<line x1="56.00" y1="231.30" x2="172.00" y2="231.30" stroke="#a0a0a0" stroke-width="0.9" stroke-dasharray="0.9 2.0"/>
<line x1="56.00" y1="203.30" x2="172.00" y2="203.30" stroke="#a0a0a0" stroke-width="0.9" stroke-dasharray="0.9 2.0"/>
<line x1="54.00" y1="259.30" x2="172.00" y2="259.30" stroke="#c6c6c6" stroke-width="1.7"/>
<line x1="57.00" y1="259.30" x2="68.60" y2="259.30" stroke="#111" stroke-width="1.2"/>
<line x1="79.50" y1="245.50" x2="79.50" y2="259.20" stroke="#657b88" stroke-width="1"/>
<line x1="78.00" y1="245.50" x2="81.00" y2="245.50" stroke="#657b88" stroke-width="1"/>
<line x1="78.00" y1="259.50" x2="81.00" y2="259.50" stroke="#657b88" stroke-width="1"/>
<line x1="73.95" y1="252.50" x2="85.35" y2="252.50" stroke="#62798a" stroke-width="1"/>
<rect x="75.00" y="233.95" width="1.70" height="1.70" fill="#161616"/>
<rect x="77.40" y="251.05" width="1.70" height="1.70" fill="#161616"/>
<rect x="79.80" y="253.45" width="1.70" height="1.70" fill="#161616"/>
<rect x="81.60" y="253.45" width="1.70" height="1.70" fill="#161616"/>
<rect x="83.20" y="254.05" width="1.70" height="1.70" fill="#161616"/>
<rect x="76.50" y="253.45" width="1.70" height="1.70" fill="#161616"/>
<rect x="78.80" y="257.15" width="1.70" height="1.70" fill="#161616"/>
<rect x="80.70" y="260.25" width="1.70" height="1.70" fill="#161616"/>
<text x="79.65" y="245.28" font-size="6.9" text-anchor="middle" fill="#ff1e2d" style="stroke:none" font-family="DejaVu Sans" letter-spacing="-0.9">★</text>
<line x1="96.00" y1="236.10" x2="96.00" y2="254.90" stroke="#a4b3bb" stroke-width="2"/>
<line x1="94.00" y1="236.50" x2="98.00" y2="236.50" stroke="#a4b3bb" stroke-width="1"/>
<line x1="94.00" y1="254.50" x2="98.00" y2="254.50" stroke="#a4b3bb" stroke-width="1"/>
<line x1="90.50" y1="245.50" x2="101.90" y2="245.50" stroke="#62798a" stroke-width="1"/>
<rect x="98.05" y="223.35" width="1.70" height="1.70" fill="#161616"/>
<rect x="91.45" y="240.35" width="1.70" height="1.70" fill="#161616"/>
<rect x="98.45" y="240.65" width="1.70" height="1.70" fill="#161616"/>
<rect x="94.45" y="248.55" width="1.70" height="1.70" fill="#161616"/>
<rect x="90.25" y="249.85" width="1.70" height="1.70" fill="#161616"/>
<rect x="96.95" y="254.35" width="1.70" height="1.70" fill="#161616"/>
<rect x="95.65" y="254.95" width="1.70" height="1.70" fill="#161616"/>
<text x="96.20" y="235.78" font-size="6.9" text-anchor="middle" fill="#ff1e2d" style="stroke:none" font-family="DejaVu Sans" letter-spacing="-0.9">★★</text>
<line x1="112.50" y1="240.60" x2="112.50" y2="254.30" stroke="#657b88" stroke-width="1"/>
<line x1="111.00" y1="240.50" x2="114.00" y2="240.50" stroke="#657b88" stroke-width="1"/>
<line x1="111.00" y1="254.50" x2="114.00" y2="254.50" stroke="#657b88" stroke-width="1"/>
<line x1="107.05" y1="247.50" x2="118.45" y2="247.50" stroke="#62798a" stroke-width="1"/>
<rect x="115.40" y="238.85" width="1.70" height="1.70" fill="#161616"/>
<rect x="110.40" y="241.95" width="1.70" height="1.70" fill="#161616"/>
<rect x="117.20" y="243.75" width="1.70" height="1.70" fill="#161616"/>
<rect x="112.80" y="244.85" width="1.70" height="1.70" fill="#161616"/>
<rect x="109.50" y="248.85" width="1.70" height="1.70" fill="#161616"/>
<rect x="107.30" y="252.95" width="1.70" height="1.70" fill="#161616"/>
<rect x="114.10" y="262.05" width="1.70" height="1.70" fill="#161616"/>
<text x="112.75" y="239.78" font-size="6.9" text-anchor="middle" fill="#ff1e2d" style="stroke:none" font-family="DejaVu Sans" letter-spacing="-0.9">★</text>
<line x1="129.50" y1="230.20" x2="129.50" y2="258.00" stroke="#657b88" stroke-width="1"/>
<line x1="128.00" y1="230.50" x2="131.00" y2="230.50" stroke="#657b88" stroke-width="1"/>
<line x1="128.00" y1="258.50" x2="131.00" y2="258.50" stroke="#657b88" stroke-width="1"/>
<line x1="123.60" y1="244.00" x2="135.00" y2="244.00" stroke="#a4b3bb" stroke-width="2"/>
<rect x="123.35" y="215.15" width="1.70" height="1.70" fill="#161616"/>
<rect x="124.85" y="237.55" width="1.70" height="1.70" fill="#161616"/>
<rect x="131.95" y="236.45" width="1.70" height="1.70" fill="#161616"/>
<rect x="127.05" y="241.95" width="1.70" height="1.70" fill="#161616"/>
<rect x="129.75" y="243.75" width="1.70" height="1.70" fill="#161616"/>
<rect x="133.35" y="250.35" width="1.70" height="1.70" fill="#161616"/>
<rect x="126.45" y="252.15" width="1.70" height="1.70" fill="#161616"/>
<rect x="130.65" y="268.05" width="1.70" height="1.70" fill="#161616"/>
<text x="129.30" y="229.38" font-size="6.9" text-anchor="middle" fill="#ff1e2d" style="stroke:none" font-family="DejaVu Sans" letter-spacing="-0.9">★</text>
<line x1="146.00" y1="232.00" x2="146.00" y2="264.30" stroke="#a4b3bb" stroke-width="2"/>
<line x1="144.00" y1="232.50" x2="148.00" y2="232.50" stroke="#a4b3bb" stroke-width="1"/>
<line x1="144.00" y1="264.50" x2="148.00" y2="264.50" stroke="#a4b3bb" stroke-width="1"/>
<line x1="140.15" y1="248.50" x2="151.55" y2="248.50" stroke="#62798a" stroke-width="1"/>
<rect x="139.90" y="217.85" width="1.70" height="1.70" fill="#161616"/>
<rect x="148.50" y="237.35" width="1.70" height="1.70" fill="#161616"/>
<rect x="150.00" y="242.55" width="1.70" height="1.70" fill="#161616"/>
<rect x="141.80" y="250.75" width="1.70" height="1.70" fill="#161616"/>
<rect x="143.00" y="251.05" width="1.70" height="1.70" fill="#161616"/>
<rect x="147.20" y="249.25" width="1.70" height="1.70" fill="#161616"/>
<rect x="146.30" y="258.95" width="1.70" height="1.70" fill="#161616"/>
<rect x="144.50" y="273.55" width="1.70" height="1.70" fill="#161616"/>
<line x1="162.50" y1="225.10" x2="162.50" y2="258.00" stroke="#657b88" stroke-width="1"/>
<line x1="161.00" y1="225.50" x2="164.00" y2="225.50" stroke="#657b88" stroke-width="1"/>
<line x1="161.00" y1="258.50" x2="164.00" y2="258.50" stroke="#657b88" stroke-width="1"/>
<line x1="156.70" y1="241.50" x2="168.10" y2="241.50" stroke="#62798a" stroke-width="1"/>
<rect x="156.65" y="207.45" width="1.70" height="1.70" fill="#161616"/>
<rect x="158.25" y="231.95" width="1.70" height="1.70" fill="#161616"/>
<rect x="163.45" y="230.25" width="1.70" height="1.70" fill="#161616"/>
<rect x="160.65" y="244.85" width="1.70" height="1.70" fill="#161616"/>
<rect x="165.25" y="245.75" width="1.70" height="1.70" fill="#161616"/>
<rect x="160.15" y="254.05" width="1.70" height="1.70" fill="#161616"/>
<rect x="166.65" y="252.15" width="1.70" height="1.70" fill="#161616"/>
<rect x="163.75" y="258.35" width="1.70" height="1.70" fill="#161616"/>
<text x="162.40" y="224.88" font-size="6.9" text-anchor="middle" fill="#ff1e2d" style="stroke:none" font-family="DejaVu Sans" letter-spacing="-0.9">★★</text>
<path d="M54.00,203.30 V287.30 H172.00" fill="none" stroke="#555555" stroke-width="1.6"/>
<line x1="51.40" y1="287.30" x2="54.00" y2="287.30" stroke="#555555" stroke-width="1.2"/>
<text x="48.00" y="289.80" font-size="7" text-anchor="end" fill="#2a2a2a" >0</text>
<line x1="51.40" y1="259.30" x2="54.00" y2="259.30" stroke="#555555" stroke-width="1.2"/>
<text x="48.00" y="261.80" font-size="7" text-anchor="end" fill="#2a2a2a" >1</text>
<line x1="51.40" y1="231.30" x2="54.00" y2="231.30" stroke="#555555" stroke-width="1.2"/>
<text x="48.00" y="233.80" font-size="7" text-anchor="end" fill="#2a2a2a" >2</text>
<line x1="51.40" y1="203.30" x2="54.00" y2="203.30" stroke="#555555" stroke-width="1.2"/>
<text x="48.00" y="205.80" font-size="7" text-anchor="end" fill="#2a2a2a" >3</text>
<text transform="translate(38.90,243.80) rotate(-90)" font-size="7.1" text-anchor="middle" fill="#1e1e1e">relative E2 production</text>
<text x="116.90" y="198.20" font-size="9.9" text-anchor="middle" fill="#111" style="stroke-width:0.25px">des-acyl-ghrelin</text>
<text transform="translate(56.60,210.40) scale(0.93,1)" font-size="7.75" fill="#1e1e1e">des-acyl-ghrelin (-) = 1</text>
<text x="62.20" y="298.60" font-size="9.2" text-anchor="middle" fill="#1e1e1e" >(-)</text>
<text transform="translate(75.05,292.00) scale(0.9,1) rotate(57)" font-size="7.15" fill="#1e1e1e">10 pg/ml</text>
<text transform="translate(91.60,292.00) scale(0.9,1) rotate(57)" font-size="7.15" fill="#1e1e1e">100 pg/ml</text>
<text transform="translate(108.15,292.00) scale(0.9,1) rotate(57)" font-size="7.15" fill="#1e1e1e">1 ng/ml</text>
<text transform="translate(124.70,292.00) scale(0.9,1) rotate(57)" font-size="7.15" fill="#1e1e1e">10 ng/ml</text>
<text transform="translate(141.25,292.00) scale(0.9,1) rotate(57)" font-size="7.15" fill="#1e1e1e">100 ng/ml</text>
<text transform="translate(157.80,292.00) scale(0.9,1) rotate(57)" font-size="7.15" fill="#1e1e1e">1 µg/ml</text>
<line x1="211.40" y1="245.30" x2="327.40" y2="245.30" stroke="#a0a0a0" stroke-width="0.9" stroke-dasharray="0.9 2.0"/>
<line x1="211.40" y1="224.30" x2="327.40" y2="224.30" stroke="#a0a0a0" stroke-width="0.9" stroke-dasharray="0.9 2.0"/>
<line x1="211.40" y1="203.30" x2="327.40" y2="203.30" stroke="#a0a0a0" stroke-width="0.9" stroke-dasharray="0.9 2.0"/>
<line x1="209.40" y1="266.30" x2="327.40" y2="266.30" stroke="#c6c6c6" stroke-width="1.7"/>
<line x1="212.40" y1="266.30" x2="224.00" y2="266.30" stroke="#111" stroke-width="1.2"/>
<line x1="235.00" y1="231.50" x2="235.00" y2="265.80" stroke="#a4b3bb" stroke-width="2"/>
<line x1="233.00" y1="231.50" x2="237.00" y2="231.50" stroke="#a4b3bb" stroke-width="1"/>
<line x1="233.00" y1="265.50" x2="237.00" y2="265.50" stroke="#a4b3bb" stroke-width="1"/>
<line x1="229.35" y1="248.50" x2="240.75" y2="248.50" stroke="#62798a" stroke-width="1"/>
<rect x="237.30" y="204.15" width="1.70" height="1.70" fill="#161616"/>
<rect x="229.10" y="249.25" width="1.70" height="1.70" fill="#161616"/>
<rect x="233.30" y="247.05" width="1.70" height="1.70" fill="#161616"/>
<rect x="237.00" y="250.75" width="1.70" height="1.70" fill="#161616"/>
<rect x="231.50" y="257.15" width="1.70" height="1.70" fill="#161616"/>
<rect x="235.50" y="261.35" width="1.70" height="1.70" fill="#161616"/>
<rect x="239.20" y="258.35" width="1.70" height="1.70" fill="#161616"/>
<text x="235.05" y="230.88" font-size="6.9" text-anchor="middle" fill="#ff1e2d" style="stroke:none" font-family="DejaVu Sans" letter-spacing="-0.9">★★</text>
<line x1="251.50" y1="242.10" x2="251.50" y2="269.50" stroke="#657b88" stroke-width="1"/>
<line x1="250.00" y1="242.50" x2="253.00" y2="242.50" stroke="#657b88" stroke-width="1"/>
<line x1="250.00" y1="269.50" x2="253.00" y2="269.50" stroke="#657b88" stroke-width="1"/>
<line x1="245.90" y1="255.50" x2="257.30" y2="255.50" stroke="#62798a" stroke-width="1"/>
<rect x="253.85" y="222.75" width="1.70" height="1.70" fill="#161616"/>
<rect x="254.95" y="250.35" width="1.70" height="1.70" fill="#161616"/>
<rect x="252.65" y="253.45" width="1.70" height="1.70" fill="#161616"/>
<rect x="245.35" y="260.75" width="1.70" height="1.70" fill="#161616"/>
<rect x="251.35" y="260.25" width="1.70" height="1.70" fill="#161616"/>
<rect x="249.55" y="258.35" width="1.70" height="1.70" fill="#161616"/>
<rect x="247.15" y="265.35" width="1.70" height="1.70" fill="#161616"/>
<text x="251.60" y="240.68" font-size="6.9" text-anchor="middle" fill="#ff1e2d" style="stroke:none" font-family="DejaVu Sans" letter-spacing="-0.9">★</text>
<line x1="268.00" y1="238.20" x2="268.00" y2="270.20" stroke="#a4b3bb" stroke-width="2"/>
<line x1="266.00" y1="238.50" x2="270.00" y2="238.50" stroke="#a4b3bb" stroke-width="1"/>
<line x1="266.00" y1="270.50" x2="270.00" y2="270.50" stroke="#a4b3bb" stroke-width="1"/>
<line x1="262.45" y1="254.50" x2="273.85" y2="254.50" stroke="#62798a" stroke-width="1"/>
<rect x="270.40" y="220.05" width="1.70" height="1.70" fill="#161616"/>
<rect x="268.20" y="244.85" width="1.70" height="1.70" fill="#161616"/>
<rect x="272.20" y="247.65" width="1.70" height="1.70" fill="#161616"/>
<rect x="262.30" y="258.35" width="1.70" height="1.70" fill="#161616"/>
<rect x="265.10" y="263.85" width="1.70" height="1.70" fill="#161616"/>
<rect x="263.10" y="267.55" width="1.70" height="1.70" fill="#161616"/>
<rect x="266.30" y="269.35" width="1.70" height="1.70" fill="#161616"/>
<line x1="284.50" y1="250.10" x2="284.50" y2="268.00" stroke="#657b88" stroke-width="1"/>
<line x1="283.00" y1="250.50" x2="286.00" y2="250.50" stroke="#657b88" stroke-width="1"/>
<line x1="283.00" y1="268.50" x2="286.00" y2="268.50" stroke="#657b88" stroke-width="1"/>
<line x1="279.00" y1="259.50" x2="290.40" y2="259.50" stroke="#62798a" stroke-width="1"/>
<rect x="287.45" y="244.85" width="1.70" height="1.70" fill="#161616"/>
<rect x="288.35" y="246.15" width="1.70" height="1.70" fill="#161616"/>
<rect x="285.65" y="252.95" width="1.70" height="1.70" fill="#161616"/>
<rect x="279.25" y="260.25" width="1.70" height="1.70" fill="#161616"/>
<rect x="284.75" y="260.75" width="1.70" height="1.70" fill="#161616"/>
<rect x="278.95" y="264.95" width="1.70" height="1.70" fill="#161616"/>
<rect x="282.95" y="267.55" width="1.70" height="1.70" fill="#161616"/>
<rect x="282.05" y="270.45" width="1.70" height="1.70" fill="#161616"/>
<line x1="301.00" y1="246.50" x2="301.00" y2="267.40" stroke="#a4b3bb" stroke-width="2"/>
<line x1="299.00" y1="246.50" x2="303.00" y2="246.50" stroke="#a4b3bb" stroke-width="1"/>
<line x1="299.00" y1="267.50" x2="303.00" y2="267.50" stroke="#a4b3bb" stroke-width="1"/>
<line x1="295.55" y1="257.50" x2="306.95" y2="257.50" stroke="#62798a" stroke-width="1"/>
<rect x="301.00" y="240.15" width="1.70" height="1.70" fill="#161616"/>
<rect x="304.10" y="243.05" width="1.70" height="1.70" fill="#161616"/>
<rect x="298.60" y="254.35" width="1.70" height="1.70" fill="#161616"/>
<rect x="300.00" y="254.05" width="1.70" height="1.70" fill="#161616"/>
<rect x="305.30" y="258.95" width="1.70" height="1.70" fill="#161616"/>
<rect x="303.10" y="262.05" width="1.70" height="1.70" fill="#161616"/>
<rect x="296.80" y="265.85" width="1.70" height="1.70" fill="#161616"/>
<rect x="295.50" y="267.65" width="1.70" height="1.70" fill="#161616"/>
<line x1="317.50" y1="239.20" x2="317.50" y2="272.20" stroke="#657b88" stroke-width="1"/>
<line x1="316.00" y1="239.50" x2="319.00" y2="239.50" stroke="#657b88" stroke-width="1"/>
<line x1="316.00" y1="272.50" x2="319.00" y2="272.50" stroke="#657b88" stroke-width="1"/>
<line x1="312.10" y1="255.50" x2="323.50" y2="255.50" stroke="#62798a" stroke-width="1"/>
<rect x="317.45" y="220.25" width="1.70" height="1.70" fill="#161616"/>
<rect x="320.25" y="243.75" width="1.70" height="1.70" fill="#161616"/>
<rect x="312.05" y="249.25" width="1.70" height="1.70" fill="#161616"/>
<rect x="318.35" y="258.95" width="1.70" height="1.70" fill="#161616"/>
<rect x="315.35" y="263.15" width="1.70" height="1.70" fill="#161616"/>
<rect x="313.45" y="268.05" width="1.70" height="1.70" fill="#161616"/>
<rect x="321.55" y="272.25" width="1.70" height="1.70" fill="#161616"/>
<path d="M209.40,203.30 V287.30 H327.40" fill="none" stroke="#555555" stroke-width="1.6"/>
<line x1="206.80" y1="287.30" x2="209.40" y2="287.30" stroke="#555555" stroke-width="1.2"/>
<text x="203.40" y="289.80" font-size="7" text-anchor="end" fill="#2a2a2a" >0</text>
<line x1="206.80" y1="266.30" x2="209.40" y2="266.30" stroke="#555555" stroke-width="1.2"/>
<text x="203.40" y="268.80" font-size="7" text-anchor="end" fill="#2a2a2a" >1</text>
<line x1="206.80" y1="245.30" x2="209.40" y2="245.30" stroke="#555555" stroke-width="1.2"/>
<text x="203.40" y="247.80" font-size="7" text-anchor="end" fill="#2a2a2a" >2</text>
<line x1="206.80" y1="224.30" x2="209.40" y2="224.30" stroke="#555555" stroke-width="1.2"/>
<text x="203.40" y="226.80" font-size="7" text-anchor="end" fill="#2a2a2a" >3</text>
<line x1="206.80" y1="203.30" x2="209.40" y2="203.30" stroke="#555555" stroke-width="1.2"/>
<text x="203.40" y="205.80" font-size="7" text-anchor="end" fill="#2a2a2a" >4</text>
<text transform="translate(194.30,243.80) rotate(-90)" font-size="7.1" text-anchor="middle" fill="#1e1e1e">relative E2 production</text>
<text x="271.60" y="198.20" font-size="9.9" text-anchor="middle" fill="#111" style="stroke-width:0.25px">somatostatin</text>
<text transform="translate(212.00,210.40) scale(0.93,1)" font-size="7.75" fill="#1e1e1e">somatostatin (-) = 1</text>
<text x="217.60" y="298.60" font-size="9.2" text-anchor="middle" fill="#1e1e1e" >(-)</text>
<text transform="translate(230.45,292.00) scale(0.9,1) rotate(57)" font-size="7.15" fill="#1e1e1e">1 pg/ml</text>
<text transform="translate(247.00,292.00) scale(0.9,1) rotate(57)" font-size="7.15" fill="#1e1e1e">2 pg/ml</text>
<text transform="translate(263.55,292.00) scale(0.9,1) rotate(57)" font-size="7.15" fill="#1e1e1e">4 pg/ml</text>
<text transform="translate(280.10,292.00) scale(0.9,1) rotate(57)" font-size="7.15" fill="#1e1e1e">8 pg/ml</text>
<text transform="translate(296.65,292.00) scale(0.9,1) rotate(57)" font-size="7.15" fill="#1e1e1e">16 pg/ml</text>
<text transform="translate(313.20,292.00) scale(0.9,1) rotate(57)" font-size="7.15" fill="#1e1e1e">32 pg/ml</text>
<line x1="366.50" y1="231.30" x2="482.50" y2="231.30" stroke="#a0a0a0" stroke-width="0.9" stroke-dasharray="0.9 2.0"/>
<line x1="366.50" y1="203.30" x2="482.50" y2="203.30" stroke="#a0a0a0" stroke-width="0.9" stroke-dasharray="0.9 2.0"/>
<line x1="364.50" y1="259.50" x2="482.50" y2="259.50" stroke="#9c9c9c" stroke-width="1.1"/>
<line x1="367.50" y1="259.50" x2="379.10" y2="259.50" stroke="#111" stroke-width="1.2"/>
<line x1="390.50" y1="232.10" x2="390.50" y2="265.30" stroke="#657b88" stroke-width="1"/>
<line x1="389.00" y1="232.50" x2="392.00" y2="232.50" stroke="#657b88" stroke-width="1"/>
<line x1="389.00" y1="265.50" x2="392.00" y2="265.50" stroke="#657b88" stroke-width="1"/>
<line x1="384.45" y1="248.50" x2="395.85" y2="248.50" stroke="#62798a" stroke-width="1"/>
<rect x="392.20" y="224.85" width="1.70" height="1.70" fill="#161616"/>
<rect x="383.40" y="239.85" width="1.70" height="1.70" fill="#161616"/>
<rect x="385.30" y="241.65" width="1.70" height="1.70" fill="#161616"/>
<rect x="390.70" y="247.15" width="1.70" height="1.70" fill="#161616"/>
<rect x="393.80" y="258.05" width="1.70" height="1.70" fill="#161616"/>
<rect x="386.50" y="262.95" width="1.70" height="1.70" fill="#161616"/>
<rect x="387.60" y="272.65" width="1.70" height="1.70" fill="#161616"/>
<line x1="407.00" y1="214.20" x2="407.00" y2="258.50" stroke="#a4b3bb" stroke-width="2"/>
<line x1="405.00" y1="214.50" x2="409.00" y2="214.50" stroke="#a4b3bb" stroke-width="1"/>
<line x1="405.00" y1="258.50" x2="409.00" y2="258.50" stroke="#a4b3bb" stroke-width="1"/>
<line x1="401.00" y1="236.50" x2="412.40" y2="236.50" stroke="#62798a" stroke-width="1"/>
<rect x="402.15" y="196.05" width="1.70" height="1.70" fill="#161616"/>
<rect x="409.15" y="218.25" width="1.70" height="1.70" fill="#161616"/>
<rect x="400.55" y="231.95" width="1.70" height="1.70" fill="#161616"/>
<rect x="405.45" y="232.55" width="1.70" height="1.70" fill="#161616"/>
<rect x="407.85" y="233.05" width="1.70" height="1.70" fill="#161616"/>
<rect x="407.35" y="250.75" width="1.70" height="1.70" fill="#161616"/>
<rect x="410.45" y="254.95" width="1.70" height="1.70" fill="#161616"/>
<rect x="403.25" y="268.05" width="1.70" height="1.70" fill="#161616"/>
<text x="406.70" y="214.28" font-size="6.9" text-anchor="middle" fill="#ff1e2d" style="stroke:none" font-family="DejaVu Sans" letter-spacing="-0.9">★</text>
<line x1="423.50" y1="230.60" x2="423.50" y2="256.20" stroke="#657b88" stroke-width="1"/>
<line x1="422.00" y1="230.50" x2="425.00" y2="230.50" stroke="#657b88" stroke-width="1"/>
<line x1="422.00" y1="256.50" x2="425.00" y2="256.50" stroke="#657b88" stroke-width="1"/>
<line x1="417.55" y1="243.50" x2="428.95" y2="243.50" stroke="#62798a" stroke-width="1"/>
<rect x="426.10" y="217.35" width="1.70" height="1.70" fill="#161616"/>
<rect x="418.40" y="228.85" width="1.70" height="1.70" fill="#161616"/>
<rect x="417.10" y="243.45" width="1.70" height="1.70" fill="#161616"/>
<rect x="423.50" y="245.25" width="1.70" height="1.70" fill="#161616"/>
<rect x="425.20" y="245.85" width="1.70" height="1.70" fill="#161616"/>
<rect x="427.50" y="248.35" width="1.70" height="1.70" fill="#161616"/>
<rect x="420.60" y="252.55" width="1.70" height="1.70" fill="#161616"/>
<rect x="421.50" y="262.05" width="1.70" height="1.70" fill="#161616"/>
<text x="423.25" y="229.78" font-size="6.9" text-anchor="middle" fill="#ff1e2d" style="stroke:none" font-family="DejaVu Sans" letter-spacing="-0.9">★</text>
<line x1="440.00" y1="239.40" x2="440.00" y2="259.80" stroke="#a4b3bb" stroke-width="2"/>
<line x1="438.00" y1="239.50" x2="442.00" y2="239.50" stroke="#a4b3bb" stroke-width="1"/>
<line x1="438.00" y1="259.50" x2="442.00" y2="259.50" stroke="#a4b3bb" stroke-width="1"/>
<line x1="434.10" y1="249.50" x2="445.50" y2="249.50" stroke="#62798a" stroke-width="1"/>
<rect x="442.65" y="233.05" width="1.70" height="1.70" fill="#161616"/>
<rect x="437.35" y="240.75" width="1.70" height="1.70" fill="#161616"/>
<rect x="434.05" y="246.55" width="1.70" height="1.70" fill="#161616"/>
<rect x="434.45" y="248.05" width="1.70" height="1.70" fill="#161616"/>
<rect x="440.45" y="246.75" width="1.70" height="1.70" fill="#161616"/>
<rect x="441.35" y="249.45" width="1.70" height="1.70" fill="#161616"/>
<rect x="444.15" y="257.15" width="1.70" height="1.70" fill="#161616"/>
<rect x="436.85" y="268.05" width="1.70" height="1.70" fill="#161616"/>
<text x="439.80" y="238.58" font-size="6.9" text-anchor="middle" fill="#ff1e2d" style="stroke:none" font-family="DejaVu Sans" letter-spacing="-0.9">★</text>
<line x1="456.50" y1="237.00" x2="456.50" y2="262.60" stroke="#657b88" stroke-width="1"/>
<line x1="455.00" y1="237.50" x2="458.00" y2="237.50" stroke="#657b88" stroke-width="1"/>
<line x1="455.00" y1="262.50" x2="458.00" y2="262.50" stroke="#657b88" stroke-width="1"/>
<line x1="450.65" y1="249.50" x2="462.05" y2="249.50" stroke="#62798a" stroke-width="1"/>
<rect x="459.10" y="227.35" width="1.70" height="1.70" fill="#161616"/>
<rect x="457.80" y="235.75" width="1.70" height="1.70" fill="#161616"/>
<rect x="450.50" y="246.15" width="1.70" height="1.70" fill="#161616"/>
<rect x="452.00" y="252.25" width="1.70" height="1.70" fill="#161616"/>
<rect x="454.20" y="259.35" width="1.70" height="1.70" fill="#161616"/>
<rect x="455.10" y="260.45" width="1.70" height="1.70" fill="#161616"/>
<rect x="453.30" y="262.95" width="1.70" height="1.70" fill="#161616"/>
<rect x="460.00" y="262.05" width="1.70" height="1.70" fill="#161616"/>
<line x1="472.50" y1="240.10" x2="472.50" y2="275.30" stroke="#657b88" stroke-width="1"/>
<line x1="471.00" y1="240.50" x2="474.00" y2="240.50" stroke="#657b88" stroke-width="1"/>
<line x1="471.00" y1="275.50" x2="474.00" y2="275.50" stroke="#657b88" stroke-width="1"/>
<line x1="467.20" y1="258.50" x2="478.60" y2="258.50" stroke="#62798a" stroke-width="1"/>
<rect x="475.45" y="219.75" width="1.70" height="1.70" fill="#161616"/>
<rect x="472.75" y="248.35" width="1.70" height="1.70" fill="#161616"/>
<rect x="467.25" y="256.25" width="1.70" height="1.70" fill="#161616"/>
<rect x="476.95" y="258.65" width="1.70" height="1.70" fill="#161616"/>
<rect x="469.65" y="264.05" width="1.70" height="1.70" fill="#161616"/>
<rect x="473.85" y="265.95" width="1.70" height="1.70" fill="#161616"/>
<rect x="470.55" y="271.75" width="1.70" height="1.70" fill="#161616"/>
<rect x="468.35" y="278.65" width="1.70" height="1.70" fill="#161616"/>
<path d="M364.50,203.30 V287.30 H482.50" fill="none" stroke="#555555" stroke-width="1.6"/>
<line x1="361.90" y1="287.30" x2="364.50" y2="287.30" stroke="#555555" stroke-width="1.2"/>
<text x="358.50" y="289.80" font-size="7" text-anchor="end" fill="#2a2a2a" >0</text>
<line x1="361.90" y1="259.30" x2="364.50" y2="259.30" stroke="#555555" stroke-width="1.2"/>
<text x="358.50" y="261.80" font-size="7" text-anchor="end" fill="#2a2a2a" >1</text>
<line x1="361.90" y1="231.30" x2="364.50" y2="231.30" stroke="#555555" stroke-width="1.2"/>
<text x="358.50" y="233.80" font-size="7" text-anchor="end" fill="#2a2a2a" >2</text>
<line x1="361.90" y1="203.30" x2="364.50" y2="203.30" stroke="#555555" stroke-width="1.2"/>
<text x="358.50" y="205.80" font-size="7" text-anchor="end" fill="#2a2a2a" >3</text>
<text transform="translate(349.40,243.80) rotate(-90)" font-size="7.1" text-anchor="middle" fill="#1e1e1e">relative E2 production</text>
<text x="427.00" y="198.20" font-size="9.9" text-anchor="middle" fill="#111" style="stroke-width:0.25px">glucagon</text>
<text transform="translate(367.10,210.40) scale(0.93,1)" font-size="7.75" fill="#1e1e1e">glucagon (-) = 1</text>
<text x="372.70" y="298.60" font-size="9.2" text-anchor="middle" fill="#1e1e1e" >(-)</text>
<text transform="translate(385.55,292.00) scale(0.9,1) rotate(57)" font-size="7.15" fill="#1e1e1e">20 pg/ml</text>
<text transform="translate(402.10,292.00) scale(0.9,1) rotate(57)" font-size="7.15" fill="#1e1e1e">40 pg/ml</text>
<text transform="translate(418.65,292.00) scale(0.9,1) rotate(57)" font-size="7.15" fill="#1e1e1e">80 pg/ml</text>
<text transform="translate(435.20,292.00) scale(0.9,1) rotate(57)" font-size="7.15" fill="#1e1e1e">160 pg/ml</text>
<text transform="translate(451.75,292.00) scale(0.9,1) rotate(57)" font-size="7.15" fill="#1e1e1e">320 pg/ml</text>
<text transform="translate(468.30,292.00) scale(0.9,1) rotate(57)" font-size="7.15" fill="#1e1e1e">640 pg/ml</text>
<line x1="521.50" y1="231.30" x2="637.50" y2="231.30" stroke="#a0a0a0" stroke-width="0.9" stroke-dasharray="0.9 2.0"/>
<line x1="521.50" y1="203.30" x2="637.50" y2="203.30" stroke="#a0a0a0" stroke-width="0.9" stroke-dasharray="0.9 2.0"/>
<line x1="519.50" y1="259.30" x2="637.50" y2="259.30" stroke="#c6c6c6" stroke-width="1.7"/>
<line x1="522.50" y1="259.30" x2="534.10" y2="259.30" stroke="#111" stroke-width="1.2"/>
<line x1="545.50" y1="233.40" x2="545.50" y2="256.20" stroke="#657b88" stroke-width="1"/>
<line x1="544.00" y1="233.50" x2="547.00" y2="233.50" stroke="#657b88" stroke-width="1"/>
<line x1="544.00" y1="256.50" x2="547.00" y2="256.50" stroke="#657b88" stroke-width="1"/>
<line x1="539.45" y1="244.50" x2="550.85" y2="244.50" stroke="#62798a" stroke-width="1"/>
<rect x="545.10" y="223.75" width="1.70" height="1.70" fill="#161616"/>
<rect x="539.60" y="236.75" width="1.70" height="1.70" fill="#161616"/>
<rect x="542.30" y="240.75" width="1.70" height="1.70" fill="#161616"/>
<rect x="549.30" y="240.75" width="1.70" height="1.70" fill="#161616"/>
<rect x="540.70" y="247.15" width="1.70" height="1.70" fill="#161616"/>
<rect x="547.50" y="248.05" width="1.70" height="1.70" fill="#161616"/>
<rect x="547.80" y="252.05" width="1.70" height="1.70" fill="#161616"/>
<rect x="543.80" y="262.25" width="1.70" height="1.70" fill="#161616"/>
<text x="545.15" y="232.58" font-size="6.9" text-anchor="middle" fill="#ff1e2d" style="stroke:none" font-family="DejaVu Sans" letter-spacing="-0.9">★</text>
<line x1="561.50" y1="220.20" x2="561.50" y2="252.90" stroke="#657b88" stroke-width="1"/>
<line x1="560.00" y1="220.50" x2="563.00" y2="220.50" stroke="#657b88" stroke-width="1"/>
<line x1="560.00" y1="252.50" x2="563.00" y2="252.50" stroke="#657b88" stroke-width="1"/>
<line x1="556.00" y1="236.50" x2="567.40" y2="236.50" stroke="#62798a" stroke-width="1"/>
<rect x="565.05" y="218.85" width="1.70" height="1.70" fill="#161616"/>
<rect x="566.35" y="219.75" width="1.70" height="1.70" fill="#161616"/>
<rect x="558.55" y="224.85" width="1.70" height="1.70" fill="#161616"/>
<rect x="555.95" y="228.85" width="1.70" height="1.70" fill="#161616"/>
<rect x="559.65" y="233.05" width="1.70" height="1.70" fill="#161616"/>
<rect x="562.15" y="238.85" width="1.70" height="1.70" fill="#161616"/>
<rect x="563.25" y="257.55" width="1.70" height="1.70" fill="#161616"/>
<rect x="557.55" y="262.25" width="1.70" height="1.70" fill="#161616"/>
<text x="561.70" y="219.38" font-size="6.9" text-anchor="middle" fill="#ff1e2d" style="stroke:none" font-family="DejaVu Sans" letter-spacing="-0.9">★</text>
<line x1="578.00" y1="214.20" x2="578.00" y2="261.30" stroke="#a4b3bb" stroke-width="2"/>
<line x1="576.00" y1="214.50" x2="580.00" y2="214.50" stroke="#a4b3bb" stroke-width="1"/>
<line x1="576.00" y1="261.50" x2="580.00" y2="261.50" stroke="#a4b3bb" stroke-width="1"/>
<line x1="572.55" y1="237.50" x2="583.95" y2="237.50" stroke="#62798a" stroke-width="1"/>
<rect x="577.40" y="200.95" width="1.70" height="1.70" fill="#161616"/>
<rect x="575.50" y="214.85" width="1.70" height="1.70" fill="#161616"/>
<rect x="582.80" y="216.65" width="1.70" height="1.70" fill="#161616"/>
<rect x="581.00" y="239.85" width="1.70" height="1.70" fill="#161616"/>
<rect x="578.60" y="242.95" width="1.70" height="1.70" fill="#161616"/>
<rect x="574.30" y="255.35" width="1.70" height="1.70" fill="#161616"/>
<rect x="573.20" y="264.85" width="1.70" height="1.70" fill="#161616"/>
<rect x="579.70" y="262.95" width="1.70" height="1.70" fill="#161616"/>
<line x1="594.50" y1="233.40" x2="594.50" y2="261.30" stroke="#657b88" stroke-width="1"/>
<line x1="593.00" y1="233.50" x2="596.00" y2="233.50" stroke="#657b88" stroke-width="1"/>
<line x1="593.00" y1="261.50" x2="596.00" y2="261.50" stroke="#657b88" stroke-width="1"/>
<line x1="589.10" y1="247.50" x2="600.50" y2="247.50" stroke="#62798a" stroke-width="1"/>
<rect x="591.85" y="218.85" width="1.70" height="1.70" fill="#161616"/>
<rect x="597.25" y="236.15" width="1.70" height="1.70" fill="#161616"/>
<rect x="589.05" y="244.35" width="1.70" height="1.70" fill="#161616"/>
<rect x="596.05" y="246.15" width="1.70" height="1.70" fill="#161616"/>
<rect x="590.55" y="252.95" width="1.70" height="1.70" fill="#161616"/>
<rect x="591.85" y="260.45" width="1.70" height="1.70" fill="#161616"/>
<rect x="596.35" y="258.05" width="1.70" height="1.70" fill="#161616"/>
<rect x="598.55" y="258.45" width="1.70" height="1.70" fill="#161616"/>
<line x1="611.50" y1="235.70" x2="611.50" y2="273.50" stroke="#657b88" stroke-width="1"/>
<line x1="610.00" y1="235.50" x2="613.00" y2="235.50" stroke="#657b88" stroke-width="1"/>
<line x1="610.00" y1="273.50" x2="613.00" y2="273.50" stroke="#657b88" stroke-width="1"/>
<line x1="605.65" y1="254.50" x2="617.05" y2="254.50" stroke="#62798a" stroke-width="1"/>
<rect x="611.40" y="223.05" width="1.70" height="1.70" fill="#161616"/>
<rect x="605.50" y="240.35" width="1.70" height="1.70" fill="#161616"/>
<rect x="607.40" y="247.15" width="1.70" height="1.70" fill="#161616"/>
<rect x="614.10" y="247.15" width="1.70" height="1.70" fill="#161616"/>
<rect x="608.30" y="251.65" width="1.70" height="1.70" fill="#161616"/>
<rect x="612.80" y="265.95" width="1.70" height="1.70" fill="#161616"/>
<rect x="615.00" y="276.65" width="1.70" height="1.70" fill="#161616"/>
<rect x="610.10" y="279.55" width="1.70" height="1.70" fill="#161616"/>
<line x1="628.00" y1="226.40" x2="628.00" y2="263.80" stroke="#a4b3bb" stroke-width="2"/>
<line x1="626.00" y1="226.50" x2="630.00" y2="226.50" stroke="#a4b3bb" stroke-width="1"/>
<line x1="626.00" y1="263.50" x2="630.00" y2="263.50" stroke="#a4b3bb" stroke-width="1"/>
<line x1="622.20" y1="245.50" x2="633.60" y2="245.50" stroke="#62798a" stroke-width="1"/>
<rect x="627.75" y="215.15" width="1.70" height="1.70" fill="#161616"/>
<rect x="626.15" y="223.95" width="1.70" height="1.70" fill="#161616"/>
<rect x="630.45" y="233.45" width="1.70" height="1.70" fill="#161616"/>
<rect x="631.95" y="239.25" width="1.70" height="1.70" fill="#161616"/>
<rect x="621.95" y="249.85" width="1.70" height="1.70" fill="#161616"/>
<rect x="623.35" y="263.55" width="1.70" height="1.70" fill="#161616"/>
<rect x="629.55" y="262.65" width="1.70" height="1.70" fill="#161616"/>
<rect x="625.05" y="268.05" width="1.70" height="1.70" fill="#161616"/>
<path d="M519.50,203.30 V287.30 H637.50" fill="none" stroke="#555555" stroke-width="1.6"/>
<line x1="516.90" y1="287.30" x2="519.50" y2="287.30" stroke="#555555" stroke-width="1.2"/>
<text x="513.50" y="289.80" font-size="7" text-anchor="end" fill="#2a2a2a" >0</text>
<line x1="516.90" y1="259.30" x2="519.50" y2="259.30" stroke="#555555" stroke-width="1.2"/>
<text x="513.50" y="261.80" font-size="7" text-anchor="end" fill="#2a2a2a" >1</text>
<line x1="516.90" y1="231.30" x2="519.50" y2="231.30" stroke="#555555" stroke-width="1.2"/>
<text x="513.50" y="233.80" font-size="7" text-anchor="end" fill="#2a2a2a" >2</text>
<line x1="516.90" y1="203.30" x2="519.50" y2="203.30" stroke="#555555" stroke-width="1.2"/>
<text x="513.50" y="205.80" font-size="7" text-anchor="end" fill="#2a2a2a" >3</text>
<text transform="translate(504.40,243.80) rotate(-90)" font-size="7.1" text-anchor="middle" fill="#1e1e1e">relative E2 production</text>
<text x="582.50" y="198.20" font-size="9.9" text-anchor="middle" fill="#111" style="stroke-width:0.25px">GIP</text>
<text transform="translate(522.10,210.40) scale(0.93,1)" font-size="7.75" fill="#1e1e1e">GIP (-) = 1</text>
<text x="527.70" y="298.60" font-size="9.2" text-anchor="middle" fill="#1e1e1e" >(-)</text>
<text transform="translate(540.55,292.00) scale(0.9,1) rotate(57)" font-size="7.15" fill="#1e1e1e">25 pg/ml</text>
<text transform="translate(557.10,292.00) scale(0.9,1) rotate(57)" font-size="7.15" fill="#1e1e1e">50 pg/ml</text>
<text transform="translate(573.65,292.00) scale(0.9,1) rotate(57)" font-size="7.15" fill="#1e1e1e">100 pg/ml</text>
<text transform="translate(590.20,292.00) scale(0.9,1) rotate(57)" font-size="7.15" fill="#1e1e1e">200 pg/ml</text>
<text transform="translate(606.75,292.00) scale(0.9,1) rotate(57)" font-size="7.15" fill="#1e1e1e">400 pg/ml</text>
<text transform="translate(623.30,292.00) scale(0.9,1) rotate(57)" font-size="7.15" fill="#1e1e1e">800 pg/ml</text>
<line x1="56.00" y1="377.75" x2="172.00" y2="377.75" stroke="#a0a0a0" stroke-width="0.9" stroke-dasharray="0.9 2.0"/>
<line x1="56.00" y1="356.75" x2="172.00" y2="356.75" stroke="#a0a0a0" stroke-width="0.9" stroke-dasharray="0.9 2.0"/>
<line x1="56.00" y1="335.75" x2="172.00" y2="335.75" stroke="#a0a0a0" stroke-width="0.9" stroke-dasharray="0.9 2.0"/>
<line x1="54.00" y1="398.75" x2="172.00" y2="398.75" stroke="#c6c6c6" stroke-width="1.7"/>
<line x1="57.00" y1="398.75" x2="68.60" y2="398.75" stroke="#111" stroke-width="1.2"/>
<line x1="79.50" y1="374.60" x2="79.50" y2="391.50" stroke="#657b88" stroke-width="1"/>
<line x1="78.00" y1="374.50" x2="81.00" y2="374.50" stroke="#657b88" stroke-width="1"/>
<line x1="78.00" y1="391.50" x2="81.00" y2="391.50" stroke="#657b88" stroke-width="1"/>
<line x1="73.95" y1="383.00" x2="85.35" y2="383.00" stroke="#a4b3bb" stroke-width="2"/>
<rect x="76.50" y="371.85" width="1.70" height="1.70" fill="#161616"/>
<rect x="79.20" y="374.05" width="1.70" height="1.70" fill="#161616"/>
<rect x="81.00" y="377.35" width="1.70" height="1.70" fill="#161616"/>
<rect x="75.60" y="383.25" width="1.70" height="1.70" fill="#161616"/>
<rect x="78.30" y="386.45" width="1.70" height="1.70" fill="#161616"/>
<rect x="82.30" y="390.15" width="1.70" height="1.70" fill="#161616"/>
<rect x="74.10" y="391.45" width="1.70" height="1.70" fill="#161616"/>
<rect x="83.40" y="395.95" width="1.70" height="1.70" fill="#161616"/>
<text x="79.65" y="371.98" font-size="6.9" text-anchor="middle" fill="#ff1e2d" style="stroke:none" font-family="DejaVu Sans" letter-spacing="-0.9">★★</text>
<line x1="96.00" y1="361.80" x2="96.00" y2="378.60" stroke="#a4b3bb" stroke-width="2"/>
<line x1="94.00" y1="361.50" x2="98.00" y2="361.50" stroke="#a4b3bb" stroke-width="1"/>
<line x1="94.00" y1="378.50" x2="98.00" y2="378.50" stroke="#a4b3bb" stroke-width="1"/>
<line x1="90.50" y1="370.50" x2="101.90" y2="370.50" stroke="#62798a" stroke-width="1"/>
<rect x="90.55" y="354.95" width="1.70" height="1.70" fill="#161616"/>
<rect x="91.45" y="371.85" width="1.70" height="1.70" fill="#161616"/>
<rect x="96.25" y="366.45" width="1.70" height="1.70" fill="#161616"/>
<rect x="97.55" y="368.75" width="1.70" height="1.70" fill="#161616"/>
<rect x="92.95" y="374.05" width="1.70" height="1.70" fill="#161616"/>
<rect x="94.45" y="379.75" width="1.70" height="1.70" fill="#161616"/>
<rect x="98.05" y="386.45" width="1.70" height="1.70" fill="#161616"/>
<text x="96.20" y="361.58" font-size="6.9" text-anchor="middle" fill="#ff1e2d" style="stroke:none" font-family="DejaVu Sans" letter-spacing="-0.9">★★</text>
<line x1="112.50" y1="370.90" x2="112.50" y2="389.20" stroke="#657b88" stroke-width="1"/>
<line x1="111.00" y1="370.50" x2="114.00" y2="370.50" stroke="#657b88" stroke-width="1"/>
<line x1="111.00" y1="389.50" x2="114.00" y2="389.50" stroke="#657b88" stroke-width="1"/>
<line x1="107.05" y1="380.50" x2="118.45" y2="380.50" stroke="#62798a" stroke-width="1"/>
<rect x="116.80" y="361.35" width="1.70" height="1.70" fill="#161616"/>
<rect x="107.70" y="376.45" width="1.70" height="1.70" fill="#161616"/>
<rect x="108.60" y="381.95" width="1.70" height="1.70" fill="#161616"/>
<rect x="110.40" y="385.55" width="1.70" height="1.70" fill="#161616"/>
<rect x="113.20" y="385.05" width="1.70" height="1.70" fill="#161616"/>
<rect x="111.30" y="387.45" width="1.70" height="1.70" fill="#161616"/>
<rect x="115.40" y="390.15" width="1.70" height="1.70" fill="#161616"/>
<text x="112.75" y="370.08" font-size="6.9" text-anchor="middle" fill="#ff1e2d" style="stroke:none" font-family="DejaVu Sans" letter-spacing="-0.9">★★</text>
<line x1="129.50" y1="368.20" x2="129.50" y2="391.40" stroke="#657b88" stroke-width="1"/>
<line x1="128.00" y1="368.50" x2="131.00" y2="368.50" stroke="#657b88" stroke-width="1"/>
<line x1="128.00" y1="391.50" x2="131.00" y2="391.50" stroke="#657b88" stroke-width="1"/>
<line x1="123.60" y1="380.50" x2="135.00" y2="380.50" stroke="#62798a" stroke-width="1"/>
<rect x="127.95" y="360.35" width="1.70" height="1.70" fill="#161616"/>
<rect x="133.05" y="364.95" width="1.70" height="1.70" fill="#161616"/>
<rect x="124.25" y="381.95" width="1.70" height="1.70" fill="#161616"/>
<rect x="126.05" y="383.25" width="1.70" height="1.70" fill="#161616"/>
<rect x="129.75" y="381.35" width="1.70" height="1.70" fill="#161616"/>
<rect x="130.65" y="386.45" width="1.70" height="1.70" fill="#161616"/>
<rect x="131.95" y="397.45" width="1.70" height="1.70" fill="#161616"/>
<text x="129.30" y="367.88" font-size="6.9" text-anchor="middle" fill="#ff1e2d" style="stroke:none" font-family="DejaVu Sans" letter-spacing="-0.9">★★</text>
<line x1="146.00" y1="361.80" x2="146.00" y2="390.40" stroke="#a4b3bb" stroke-width="2"/>
<line x1="144.00" y1="361.50" x2="148.00" y2="361.50" stroke="#a4b3bb" stroke-width="1"/>
<line x1="144.00" y1="390.50" x2="148.00" y2="390.50" stroke="#a4b3bb" stroke-width="1"/>
<line x1="140.15" y1="376.50" x2="151.55" y2="376.50" stroke="#62798a" stroke-width="1"/>
<rect x="144.50" y="354.55" width="1.70" height="1.70" fill="#161616"/>
<rect x="141.20" y="364.25" width="1.70" height="1.70" fill="#161616"/>
<rect x="146.70" y="366.75" width="1.70" height="1.70" fill="#161616"/>
<rect x="143.60" y="373.35" width="1.70" height="1.70" fill="#161616"/>
<rect x="149.10" y="376.45" width="1.70" height="1.70" fill="#161616"/>
<rect x="141.80" y="386.15" width="1.70" height="1.70" fill="#161616"/>
<rect x="149.10" y="390.55" width="1.70" height="1.70" fill="#161616"/>
<rect x="147.60" y="396.55" width="1.70" height="1.70" fill="#161616"/>
<text x="145.85" y="362.48" font-size="6.9" text-anchor="middle" fill="#ff1e2d" style="stroke:none" font-family="DejaVu Sans" letter-spacing="-0.9">★★</text>
<line x1="162.50" y1="348.50" x2="162.50" y2="409.20" stroke="#657b88" stroke-width="1"/>
<line x1="161.00" y1="348.50" x2="164.00" y2="348.50" stroke="#657b88" stroke-width="1"/>
<line x1="161.00" y1="409.50" x2="164.00" y2="409.50" stroke="#657b88" stroke-width="1"/>
<line x1="156.70" y1="379.00" x2="168.10" y2="379.00" stroke="#a4b3bb" stroke-width="2"/>
<rect x="160.65" y="332.25" width="1.70" height="1.70" fill="#161616"/>
<rect x="157.05" y="338.15" width="1.70" height="1.70" fill="#161616"/>
<rect x="162.85" y="366.05" width="1.70" height="1.70" fill="#161616"/>
<rect x="164.85" y="386.85" width="1.70" height="1.70" fill="#161616"/>
<rect x="159.35" y="391.65" width="1.70" height="1.70" fill="#161616"/>
<rect x="163.75" y="395.25" width="1.70" height="1.70" fill="#161616"/>
<rect x="158.25" y="401.05" width="1.70" height="1.70" fill="#161616"/>
<rect x="166.15" y="416.05" width="1.70" height="1.70" fill="#161616"/>
<path d="M54.00,335.75 V419.75 H172.00" fill="none" stroke="#555555" stroke-width="1.6"/>
<line x1="51.40" y1="419.75" x2="54.00" y2="419.75" stroke="#555555" stroke-width="1.2"/>
<text x="48.00" y="422.25" font-size="7" text-anchor="end" fill="#2a2a2a" >0</text>
<line x1="51.40" y1="398.75" x2="54.00" y2="398.75" stroke="#555555" stroke-width="1.2"/>
<text x="48.00" y="401.25" font-size="7" text-anchor="end" fill="#2a2a2a" >1</text>
<line x1="51.40" y1="377.75" x2="54.00" y2="377.75" stroke="#555555" stroke-width="1.2"/>
<text x="48.00" y="380.25" font-size="7" text-anchor="end" fill="#2a2a2a" >2</text>
<line x1="51.40" y1="356.75" x2="54.00" y2="356.75" stroke="#555555" stroke-width="1.2"/>
<text x="48.00" y="359.25" font-size="7" text-anchor="end" fill="#2a2a2a" >3</text>
<line x1="51.40" y1="335.75" x2="54.00" y2="335.75" stroke="#555555" stroke-width="1.2"/>
<text x="48.00" y="338.25" font-size="7" text-anchor="end" fill="#2a2a2a" >4</text>
<text transform="translate(38.90,376.25) rotate(-90)" font-size="7.1" text-anchor="middle" fill="#1e1e1e">relative E2 production</text>
<text x="113.00" y="330.65" font-size="9.9" text-anchor="middle" fill="#111" style="stroke-width:0.25px">GLP-1</text>
<text transform="translate(56.60,342.85) scale(0.93,1)" font-size="7.75" fill="#1e1e1e">GLP-1 (-) = 1</text>
<text x="62.20" y="431.05" font-size="9.2" text-anchor="middle" fill="#1e1e1e" >(-)</text>
<text transform="translate(75.05,424.45) scale(0.9,1) rotate(57)" font-size="7.15" fill="#1e1e1e">1 pg/ml</text>
<text transform="translate(91.60,424.45) scale(0.9,1) rotate(57)" font-size="7.15" fill="#1e1e1e">3 pg/ml</text>
<text transform="translate(108.15,424.45) scale(0.9,1) rotate(57)" font-size="7.15" fill="#1e1e1e">10 pg/ml</text>
<text transform="translate(124.70,424.45) scale(0.9,1) rotate(57)" font-size="7.15" fill="#1e1e1e">30 pg/ml</text>
<text transform="translate(141.25,424.45) scale(0.9,1) rotate(57)" font-size="7.15" fill="#1e1e1e">100 pg/ml</text>
<text transform="translate(157.80,424.45) scale(0.9,1) rotate(57)" font-size="7.15" fill="#1e1e1e">300 pg/ml</text>
<line x1="211.00" y1="386.15" x2="327.00" y2="386.15" stroke="#a0a0a0" stroke-width="0.9" stroke-dasharray="0.9 2.0"/>
<line x1="211.00" y1="369.35" x2="327.00" y2="369.35" stroke="#a0a0a0" stroke-width="0.9" stroke-dasharray="0.9 2.0"/>
<line x1="211.00" y1="352.55" x2="327.00" y2="352.55" stroke="#a0a0a0" stroke-width="0.9" stroke-dasharray="0.9 2.0"/>
<line x1="211.00" y1="335.75" x2="327.00" y2="335.75" stroke="#a0a0a0" stroke-width="0.9" stroke-dasharray="0.9 2.0"/>
<line x1="209.00" y1="402.50" x2="327.00" y2="402.50" stroke="#9c9c9c" stroke-width="1.1"/>
<line x1="212.00" y1="402.50" x2="223.60" y2="402.50" stroke="#111" stroke-width="1.2"/>
<line x1="234.50" y1="385.90" x2="234.50" y2="402.30" stroke="#657b88" stroke-width="1"/>
<line x1="233.00" y1="385.50" x2="236.00" y2="385.50" stroke="#657b88" stroke-width="1"/>
<line x1="233.00" y1="402.50" x2="236.00" y2="402.50" stroke="#657b88" stroke-width="1"/>
<line x1="228.95" y1="394.50" x2="240.35" y2="394.50" stroke="#62798a" stroke-width="1"/>
<rect x="229.10" y="377.35" width="1.70" height="1.70" fill="#161616"/>
<rect x="231.50" y="390.55" width="1.70" height="1.70" fill="#161616"/>
<rect x="235.50" y="386.85" width="1.70" height="1.70" fill="#161616"/>
<rect x="233.30" y="393.45" width="1.70" height="1.70" fill="#161616"/>
<rect x="236.60" y="397.45" width="1.70" height="1.70" fill="#161616"/>
<rect x="238.40" y="399.65" width="1.70" height="1.70" fill="#161616"/>
<rect x="232.40" y="401.45" width="1.70" height="1.70" fill="#161616"/>
<rect x="230.20" y="402.05" width="1.70" height="1.70" fill="#161616"/>
<line x1="251.00" y1="378.20" x2="251.00" y2="398.30" stroke="#a4b3bb" stroke-width="2"/>
<line x1="249.00" y1="378.50" x2="253.00" y2="378.50" stroke="#a4b3bb" stroke-width="1"/>
<line x1="249.00" y1="398.50" x2="253.00" y2="398.50" stroke="#a4b3bb" stroke-width="1"/>
<line x1="245.50" y1="388.50" x2="256.90" y2="388.50" stroke="#62798a" stroke-width="1"/>
<rect x="245.55" y="365.15" width="1.70" height="1.70" fill="#161616"/>
<rect x="248.45" y="378.25" width="1.70" height="1.70" fill="#161616"/>
<rect x="246.45" y="386.45" width="1.70" height="1.70" fill="#161616"/>
<rect x="252.55" y="388.65" width="1.70" height="1.70" fill="#161616"/>
<rect x="254.85" y="391.95" width="1.70" height="1.70" fill="#161616"/>
<rect x="249.45" y="393.45" width="1.70" height="1.70" fill="#161616"/>
<rect x="251.25" y="397.45" width="1.70" height="1.70" fill="#161616"/>
<rect x="252.15" y="398.95" width="1.70" height="1.70" fill="#161616"/>
<text x="251.20" y="377.38" font-size="6.9" text-anchor="middle" fill="#ff1e2d" style="stroke:none" font-family="DejaVu Sans" letter-spacing="-0.9">★★</text>
<line x1="267.50" y1="359.10" x2="267.50" y2="403.40" stroke="#657b88" stroke-width="1"/>
<line x1="266.00" y1="359.50" x2="269.00" y2="359.50" stroke="#657b88" stroke-width="1"/>
<line x1="266.00" y1="403.50" x2="269.00" y2="403.50" stroke="#657b88" stroke-width="1"/>
<line x1="262.05" y1="381.00" x2="273.45" y2="381.00" stroke="#a4b3bb" stroke-width="2"/>
<rect x="262.30" y="331.75" width="1.70" height="1.70" fill="#161616"/>
<rect x="264.50" y="372.25" width="1.70" height="1.70" fill="#161616"/>
<rect x="270.40" y="375.55" width="1.70" height="1.70" fill="#161616"/>
<rect x="267.80" y="379.15" width="1.70" height="1.70" fill="#161616"/>
<rect x="263.20" y="386.85" width="1.70" height="1.70" fill="#161616"/>
<rect x="271.80" y="386.45" width="1.70" height="1.70" fill="#161616"/>
<rect x="269.10" y="397.45" width="1.70" height="1.70" fill="#161616"/>
<rect x="266.30" y="402.55" width="1.70" height="1.70" fill="#161616"/>
<text x="267.75" y="358.48" font-size="6.9" text-anchor="middle" fill="#ff1e2d" style="stroke:none" font-family="DejaVu Sans" letter-spacing="-0.9">★</text>
<line x1="284.00" y1="372.20" x2="284.00" y2="401.00" stroke="#a4b3bb" stroke-width="2"/>
<line x1="282.00" y1="372.50" x2="286.00" y2="372.50" stroke="#a4b3bb" stroke-width="1"/>
<line x1="282.00" y1="401.50" x2="286.00" y2="401.50" stroke="#a4b3bb" stroke-width="1"/>
<line x1="278.60" y1="385.50" x2="290.00" y2="385.50" stroke="#62798a" stroke-width="1"/>
<rect x="278.55" y="362.75" width="1.70" height="1.70" fill="#161616"/>
<rect x="281.05" y="363.65" width="1.70" height="1.70" fill="#161616"/>
<rect x="287.05" y="383.75" width="1.70" height="1.70" fill="#161616"/>
<rect x="279.45" y="387.45" width="1.70" height="1.70" fill="#161616"/>
<rect x="288.55" y="391.05" width="1.70" height="1.70" fill="#161616"/>
<rect x="286.15" y="394.75" width="1.70" height="1.70" fill="#161616"/>
<rect x="284.35" y="397.05" width="1.70" height="1.70" fill="#161616"/>
<rect x="282.55" y="399.65" width="1.70" height="1.70" fill="#161616"/>
<text x="284.30" y="371.58" font-size="6.9" text-anchor="middle" fill="#ff1e2d" style="stroke:none" font-family="DejaVu Sans" letter-spacing="-0.9">★★</text>
<line x1="300.50" y1="387.00" x2="300.50" y2="402.30" stroke="#657b88" stroke-width="1"/>
<line x1="299.00" y1="387.50" x2="302.00" y2="387.50" stroke="#657b88" stroke-width="1"/>
<line x1="299.00" y1="402.50" x2="302.00" y2="402.50" stroke="#657b88" stroke-width="1"/>
<line x1="295.15" y1="394.50" x2="306.55" y2="394.50" stroke="#62798a" stroke-width="1"/>
<rect x="295.40" y="379.15" width="1.70" height="1.70" fill="#161616"/>
<rect x="302.70" y="388.35" width="1.70" height="1.70" fill="#161616"/>
<rect x="297.60" y="390.65" width="1.70" height="1.70" fill="#161616"/>
<rect x="300.40" y="392.85" width="1.70" height="1.70" fill="#161616"/>
<rect x="304.90" y="395.65" width="1.70" height="1.70" fill="#161616"/>
<rect x="302.70" y="396.85" width="1.70" height="1.70" fill="#161616"/>
<rect x="296.00" y="399.65" width="1.70" height="1.70" fill="#161616"/>
<rect x="301.50" y="403.25" width="1.70" height="1.70" fill="#161616"/>
<text x="300.85" y="385.28" font-size="6.9" text-anchor="middle" fill="#ff1e2d" style="stroke:none" font-family="DejaVu Sans" letter-spacing="-0.9">★</text>
<line x1="317.50" y1="382.20" x2="317.50" y2="405.90" stroke="#657b88" stroke-width="1"/>
<line x1="316.00" y1="382.50" x2="319.00" y2="382.50" stroke="#657b88" stroke-width="1"/>
<line x1="316.00" y1="405.50" x2="319.00" y2="405.50" stroke="#657b88" stroke-width="1"/>
<line x1="311.70" y1="394.50" x2="323.10" y2="394.50" stroke="#62798a" stroke-width="1"/>
<rect x="313.95" y="374.65" width="1.70" height="1.70" fill="#161616"/>
<rect x="311.65" y="377.05" width="1.70" height="1.70" fill="#161616"/>
<rect x="313.45" y="390.15" width="1.70" height="1.70" fill="#161616"/>
<rect x="319.25" y="391.95" width="1.70" height="1.70" fill="#161616"/>
<rect x="317.95" y="400.75" width="1.70" height="1.70" fill="#161616"/>
<rect x="320.75" y="402.95" width="1.70" height="1.70" fill="#161616"/>
<rect x="318.55" y="403.85" width="1.70" height="1.70" fill="#161616"/>
<rect x="315.25" y="405.05" width="1.70" height="1.70" fill="#161616"/>
<path d="M209.00,335.75 V419.75 H327.00" fill="none" stroke="#555555" stroke-width="1.6"/>
<line x1="206.40" y1="419.75" x2="209.00" y2="419.75" stroke="#555555" stroke-width="1.2"/>
<text x="203.00" y="422.25" font-size="7" text-anchor="end" fill="#2a2a2a" >0</text>
<line x1="206.40" y1="402.95" x2="209.00" y2="402.95" stroke="#555555" stroke-width="1.2"/>
<text x="203.00" y="405.45" font-size="7" text-anchor="end" fill="#2a2a2a" >1</text>
<line x1="206.40" y1="386.15" x2="209.00" y2="386.15" stroke="#555555" stroke-width="1.2"/>
<text x="203.00" y="388.65" font-size="7" text-anchor="end" fill="#2a2a2a" >2</text>
<line x1="206.40" y1="369.35" x2="209.00" y2="369.35" stroke="#555555" stroke-width="1.2"/>
<text x="203.00" y="371.85" font-size="7" text-anchor="end" fill="#2a2a2a" >3</text>
<line x1="206.40" y1="352.55" x2="209.00" y2="352.55" stroke="#555555" stroke-width="1.2"/>
<text x="203.00" y="355.05" font-size="7" text-anchor="end" fill="#2a2a2a" >4</text>
<line x1="206.40" y1="335.75" x2="209.00" y2="335.75" stroke="#555555" stroke-width="1.2"/>
<text x="203.00" y="338.25" font-size="7" text-anchor="end" fill="#2a2a2a" >5</text>
<text transform="translate(193.90,376.25) rotate(-90)" font-size="7.1" text-anchor="middle" fill="#1e1e1e">relative E2 production</text>
<text x="272.00" y="330.65" font-size="9.9" text-anchor="middle" fill="#111" style="stroke-width:0.25px">CCK</text>
<text transform="translate(211.60,342.85) scale(0.93,1)" font-size="7.75" fill="#1e1e1e">CCK (-) = 1</text>
<text x="217.20" y="431.05" font-size="9.2" text-anchor="middle" fill="#1e1e1e" >(-)</text>
<text transform="translate(230.05,424.45) scale(0.9,1) rotate(57)" font-size="7.15" fill="#1e1e1e">0.1 pg/ml</text>
<text transform="translate(246.60,424.45) scale(0.9,1) rotate(57)" font-size="7.15" fill="#1e1e1e">0.3 pg/ml</text>
<text transform="translate(263.15,424.45) scale(0.9,1) rotate(57)" font-size="7.15" fill="#1e1e1e">1 pg/ml</text>
<text transform="translate(279.70,424.45) scale(0.9,1) rotate(57)" font-size="7.15" fill="#1e1e1e">3 pg/ml</text>
<text transform="translate(296.25,424.45) scale(0.9,1) rotate(57)" font-size="7.15" fill="#1e1e1e">10 pg/ml</text>
<text transform="translate(312.80,424.45) scale(0.9,1) rotate(57)" font-size="7.15" fill="#1e1e1e">30 pg/ml</text>
<line x1="366.50" y1="377.75" x2="482.50" y2="377.75" stroke="#a0a0a0" stroke-width="0.9" stroke-dasharray="0.9 2.0"/>
<line x1="366.50" y1="356.75" x2="482.50" y2="356.75" stroke="#a0a0a0" stroke-width="0.9" stroke-dasharray="0.9 2.0"/>
<line x1="366.50" y1="335.75" x2="482.50" y2="335.75" stroke="#a0a0a0" stroke-width="0.9" stroke-dasharray="0.9 2.0"/>
<line x1="364.50" y1="398.75" x2="482.50" y2="398.75" stroke="#c6c6c6" stroke-width="1.7"/>
<line x1="367.50" y1="398.75" x2="379.10" y2="398.75" stroke="#111" stroke-width="1.2"/>
<line x1="390.00" y1="375.20" x2="390.00" y2="398.60" stroke="#a4b3bb" stroke-width="2"/>
<line x1="388.00" y1="375.50" x2="392.00" y2="375.50" stroke="#a4b3bb" stroke-width="1"/>
<line x1="388.00" y1="398.50" x2="392.00" y2="398.50" stroke="#a4b3bb" stroke-width="1"/>
<line x1="384.45" y1="387.50" x2="395.85" y2="387.50" stroke="#62798a" stroke-width="1"/>
<rect x="384.60" y="372.75" width="1.70" height="1.70" fill="#161616"/>
<rect x="386.20" y="373.25" width="1.70" height="1.70" fill="#161616"/>
<rect x="388.10" y="372.05" width="1.70" height="1.70" fill="#161616"/>
<rect x="392.30" y="391.45" width="1.70" height="1.70" fill="#161616"/>
<rect x="388.60" y="391.45" width="1.70" height="1.70" fill="#161616"/>
<rect x="394.60" y="397.05" width="1.70" height="1.70" fill="#161616"/>
<rect x="390.00" y="405.95" width="1.70" height="1.70" fill="#161616"/>
<text x="390.15" y="375.38" font-size="6.9" text-anchor="middle" fill="#ff1e2d" style="stroke:none" font-family="DejaVu Sans" letter-spacing="-0.9">★</text>
<line x1="406.50" y1="384.60" x2="406.50" y2="397.00" stroke="#657b88" stroke-width="1"/>
<line x1="405.00" y1="384.50" x2="408.00" y2="384.50" stroke="#657b88" stroke-width="1"/>
<line x1="405.00" y1="397.50" x2="408.00" y2="397.50" stroke="#657b88" stroke-width="1"/>
<line x1="401.00" y1="389.00" x2="412.40" y2="389.00" stroke="#a4b3bb" stroke-width="2"/>
<rect x="403.55" y="377.45" width="1.70" height="1.70" fill="#161616"/>
<rect x="401.65" y="384.45" width="1.70" height="1.70" fill="#161616"/>
<rect x="404.45" y="388.35" width="1.70" height="1.70" fill="#161616"/>
<rect x="410.55" y="387.65" width="1.70" height="1.70" fill="#161616"/>
<rect x="408.65" y="392.35" width="1.70" height="1.70" fill="#161616"/>
<rect x="405.85" y="396.15" width="1.70" height="1.70" fill="#161616"/>
<text x="406.70" y="383.98" font-size="6.9" text-anchor="middle" fill="#ff1e2d" style="stroke:none" font-family="DejaVu Sans" letter-spacing="-0.9">★★</text>
<line x1="423.50" y1="385.70" x2="423.50" y2="400.90" stroke="#657b88" stroke-width="1"/>
<line x1="422.00" y1="385.50" x2="425.00" y2="385.50" stroke="#657b88" stroke-width="1"/>
<line x1="422.00" y1="400.50" x2="425.00" y2="400.50" stroke="#657b88" stroke-width="1"/>
<line x1="417.55" y1="393.50" x2="428.95" y2="393.50" stroke="#62798a" stroke-width="1"/>
<rect x="418.90" y="381.65" width="1.70" height="1.70" fill="#161616"/>
<rect x="425.90" y="385.35" width="1.70" height="1.70" fill="#161616"/>
<rect x="421.70" y="392.35" width="1.70" height="1.70" fill="#161616"/>
<rect x="427.00" y="394.25" width="1.70" height="1.70" fill="#161616"/>
<rect x="417.70" y="401.25" width="1.70" height="1.70" fill="#161616"/>
<rect x="420.50" y="400.05" width="1.70" height="1.70" fill="#161616"/>
<rect x="424.70" y="396.15" width="1.70" height="1.70" fill="#161616"/>
<line x1="439.50" y1="368.20" x2="439.50" y2="400.90" stroke="#657b88" stroke-width="1"/>
<line x1="438.00" y1="368.50" x2="441.00" y2="368.50" stroke="#657b88" stroke-width="1"/>
<line x1="438.00" y1="400.50" x2="441.00" y2="400.50" stroke="#657b88" stroke-width="1"/>
<line x1="434.10" y1="385.00" x2="445.50" y2="385.00" stroke="#a4b3bb" stroke-width="2"/>
<rect x="436.65" y="349.85" width="1.70" height="1.70" fill="#161616"/>
<rect x="435.25" y="371.35" width="1.70" height="1.70" fill="#161616"/>
<rect x="440.65" y="384.45" width="1.70" height="1.70" fill="#161616"/>
<rect x="434.25" y="391.45" width="1.70" height="1.70" fill="#161616"/>
<rect x="442.45" y="393.75" width="1.70" height="1.70" fill="#161616"/>
<rect x="438.25" y="399.35" width="1.70" height="1.70" fill="#161616"/>
<rect x="443.65" y="399.35" width="1.70" height="1.70" fill="#161616"/>
<line x1="456.00" y1="363.50" x2="456.00" y2="402.10" stroke="#a4b3bb" stroke-width="2"/>
<line x1="454.00" y1="363.50" x2="458.00" y2="363.50" stroke="#a4b3bb" stroke-width="1"/>
<line x1="454.00" y1="402.50" x2="458.00" y2="402.50" stroke="#a4b3bb" stroke-width="1"/>
<line x1="450.65" y1="382.50" x2="462.05" y2="382.50" stroke="#62798a" stroke-width="1"/>
<rect x="450.20" y="341.25" width="1.70" height="1.70" fill="#161616"/>
<rect x="453.20" y="362.65" width="1.70" height="1.70" fill="#161616"/>
<rect x="457.40" y="383.75" width="1.70" height="1.70" fill="#161616"/>
<rect x="459.00" y="386.05" width="1.70" height="1.70" fill="#161616"/>
<rect x="452.70" y="392.35" width="1.70" height="1.70" fill="#161616"/>
<rect x="455.50" y="391.85" width="1.70" height="1.70" fill="#161616"/>
<rect x="460.90" y="402.45" width="1.70" height="1.70" fill="#161616"/>
<text x="456.35" y="362.48" font-size="6.9" text-anchor="middle" fill="#ff1e2d" style="stroke:none" font-family="DejaVu Sans" letter-spacing="-0.9">★</text>
<line x1="472.50" y1="367.50" x2="472.50" y2="404.90" stroke="#657b88" stroke-width="1"/>
<line x1="471.00" y1="367.50" x2="474.00" y2="367.50" stroke="#657b88" stroke-width="1"/>
<line x1="471.00" y1="404.50" x2="474.00" y2="404.50" stroke="#657b88" stroke-width="1"/>
<line x1="467.20" y1="386.50" x2="478.60" y2="386.50" stroke="#62798a" stroke-width="1"/>
<rect x="467.35" y="362.65" width="1.70" height="1.70" fill="#161616"/>
<rect x="469.05" y="361.55" width="1.70" height="1.70" fill="#161616"/>
<rect x="470.45" y="363.85" width="1.70" height="1.70" fill="#161616"/>
<rect x="470.85" y="390.05" width="1.70" height="1.70" fill="#161616"/>
<rect x="474.35" y="394.25" width="1.70" height="1.70" fill="#161616"/>
<rect x="472.55" y="400.05" width="1.70" height="1.70" fill="#161616"/>
<rect x="475.55" y="397.75" width="1.70" height="1.70" fill="#161616"/>
<rect x="477.15" y="407.75" width="1.70" height="1.70" fill="#161616"/>
<path d="M364.50,335.75 V419.75 H482.50" fill="none" stroke="#555555" stroke-width="1.6"/>
<line x1="361.90" y1="419.75" x2="364.50" y2="419.75" stroke="#555555" stroke-width="1.2"/>
<text x="358.50" y="422.25" font-size="7" text-anchor="end" fill="#2a2a2a" >0</text>
<line x1="361.90" y1="398.75" x2="364.50" y2="398.75" stroke="#555555" stroke-width="1.2"/>
<text x="358.50" y="401.25" font-size="7" text-anchor="end" fill="#2a2a2a" >1</text>
<line x1="361.90" y1="377.75" x2="364.50" y2="377.75" stroke="#555555" stroke-width="1.2"/>
<text x="358.50" y="380.25" font-size="7" text-anchor="end" fill="#2a2a2a" >2</text>
<line x1="361.90" y1="356.75" x2="364.50" y2="356.75" stroke="#555555" stroke-width="1.2"/>
<text x="358.50" y="359.25" font-size="7" text-anchor="end" fill="#2a2a2a" >3</text>
<line x1="361.90" y1="335.75" x2="364.50" y2="335.75" stroke="#555555" stroke-width="1.2"/>
<text x="358.50" y="338.25" font-size="7" text-anchor="end" fill="#2a2a2a" >4</text>
<text transform="translate(349.40,376.25) rotate(-90)" font-size="7.1" text-anchor="middle" fill="#1e1e1e">relative E2 production</text>
<text x="427.30" y="330.65" font-size="9.9" text-anchor="middle" fill="#111" style="stroke-width:0.25px">cortisol</text>
<text transform="translate(367.10,344.75) scale(0.93,1)" font-size="7.75" fill="#1e1e1e">cortisol (-) = 1</text>
<text x="372.70" y="431.05" font-size="9.2" text-anchor="middle" fill="#1e1e1e" >(-)</text>
<text transform="translate(385.55,424.45) scale(0.9,1) rotate(57)" font-size="7.15" fill="#1e1e1e">15 ng/ml</text>
<text transform="translate(402.10,424.45) scale(0.9,1) rotate(57)" font-size="7.15" fill="#1e1e1e">30 ng/ml</text>
<text transform="translate(418.65,424.45) scale(0.9,1) rotate(57)" font-size="7.15" fill="#1e1e1e">60 ng/ml</text>
<text transform="translate(435.20,424.45) scale(0.9,1) rotate(57)" font-size="7.15" fill="#1e1e1e">120 ng/ml</text>
<text transform="translate(451.75,424.45) scale(0.9,1) rotate(57)" font-size="7.15" fill="#1e1e1e">240 ng/ml</text>
<text transform="translate(468.30,424.45) scale(0.9,1) rotate(57)" font-size="7.15" fill="#1e1e1e">480 ng/ml</text>
<line x1="521.50" y1="377.75" x2="637.50" y2="377.75" stroke="#a0a0a0" stroke-width="0.9" stroke-dasharray="0.9 2.0"/>
<line x1="521.50" y1="356.75" x2="637.50" y2="356.75" stroke="#a0a0a0" stroke-width="0.9" stroke-dasharray="0.9 2.0"/>
<line x1="521.50" y1="335.75" x2="637.50" y2="335.75" stroke="#a0a0a0" stroke-width="0.9" stroke-dasharray="0.9 2.0"/>
<line x1="519.50" y1="398.75" x2="637.50" y2="398.75" stroke="#c6c6c6" stroke-width="1.7"/>
<line x1="522.50" y1="398.75" x2="534.10" y2="398.75" stroke="#111" stroke-width="1.2"/>
<line x1="545.50" y1="360.30" x2="545.50" y2="397.00" stroke="#657b88" stroke-width="1"/>
<line x1="544.00" y1="360.50" x2="547.00" y2="360.50" stroke="#657b88" stroke-width="1"/>
<line x1="544.00" y1="397.50" x2="547.00" y2="397.50" stroke="#657b88" stroke-width="1"/>
<line x1="539.45" y1="378.50" x2="550.85" y2="378.50" stroke="#62798a" stroke-width="1"/>
<rect x="548.50" y="332.65" width="1.70" height="1.70" fill="#161616"/>
<rect x="545.60" y="375.95" width="1.70" height="1.70" fill="#161616"/>
<rect x="547.40" y="378.25" width="1.70" height="1.70" fill="#161616"/>
<rect x="541.60" y="378.25" width="1.70" height="1.70" fill="#161616"/>
<rect x="540.10" y="384.65" width="1.70" height="1.70" fill="#161616"/>
<rect x="543.00" y="386.45" width="1.70" height="1.70" fill="#161616"/>
<rect x="542.50" y="396.15" width="1.70" height="1.70" fill="#161616"/>
<rect x="546.70" y="396.15" width="1.70" height="1.70" fill="#161616"/>
<text x="545.15" y="359.68" font-size="6.9" text-anchor="middle" fill="#ff1e2d" style="stroke:none" font-family="DejaVu Sans" letter-spacing="-0.9">★★</text>
<line x1="561.50" y1="368.20" x2="561.50" y2="399.20" stroke="#657b88" stroke-width="1"/>
<line x1="560.00" y1="368.50" x2="563.00" y2="368.50" stroke="#657b88" stroke-width="1"/>
<line x1="560.00" y1="399.50" x2="563.00" y2="399.50" stroke="#657b88" stroke-width="1"/>
<line x1="556.00" y1="384.00" x2="567.40" y2="384.00" stroke="#a4b3bb" stroke-width="2"/>
<rect x="565.85" y="350.55" width="1.70" height="1.70" fill="#161616"/>
<rect x="555.95" y="376.05" width="1.70" height="1.70" fill="#161616"/>
<rect x="562.15" y="381.95" width="1.70" height="1.70" fill="#161616"/>
<rect x="562.75" y="387.45" width="1.70" height="1.70" fill="#161616"/>
<rect x="558.65" y="391.65" width="1.70" height="1.70" fill="#161616"/>
<rect x="564.55" y="390.65" width="1.70" height="1.70" fill="#161616"/>
<rect x="560.35" y="403.45" width="1.70" height="1.70" fill="#161616"/>
<text x="561.70" y="368.28" font-size="6.9" text-anchor="middle" fill="#ff1e2d" style="stroke:none" font-family="DejaVu Sans" letter-spacing="-0.9">★</text>
<line x1="578.50" y1="379.10" x2="578.50" y2="397.70" stroke="#657b88" stroke-width="1"/>
<line x1="577.00" y1="379.50" x2="580.00" y2="379.50" stroke="#657b88" stroke-width="1"/>
<line x1="577.00" y1="397.50" x2="580.00" y2="397.50" stroke="#657b88" stroke-width="1"/>
<line x1="572.55" y1="388.50" x2="583.95" y2="388.50" stroke="#62798a" stroke-width="1"/>
<rect x="582.50" y="370.05" width="1.70" height="1.70" fill="#161616"/>
<rect x="576.10" y="383.25" width="1.70" height="1.70" fill="#161616"/>
<rect x="579.20" y="383.25" width="1.70" height="1.70" fill="#161616"/>
<rect x="573.20" y="391.65" width="1.70" height="1.70" fill="#161616"/>
<rect x="575.50" y="389.75" width="1.70" height="1.70" fill="#161616"/>
<rect x="578.30" y="397.85" width="1.70" height="1.70" fill="#161616"/>
<rect x="581.00" y="400.15" width="1.70" height="1.70" fill="#161616"/>
<text x="578.25" y="378.48" font-size="6.9" text-anchor="middle" fill="#ff1e2d" style="stroke:none" font-family="DejaVu Sans" letter-spacing="-0.9">★</text>
<line x1="594.50" y1="369.60" x2="594.50" y2="409.20" stroke="#657b88" stroke-width="1"/>
<line x1="593.00" y1="369.50" x2="596.00" y2="369.50" stroke="#657b88" stroke-width="1"/>
<line x1="593.00" y1="409.50" x2="596.00" y2="409.50" stroke="#657b88" stroke-width="1"/>
<line x1="589.10" y1="390.00" x2="600.50" y2="390.00" stroke="#a4b3bb" stroke-width="2"/>
<rect x="598.45" y="349.05" width="1.70" height="1.70" fill="#161616"/>
<rect x="590.85" y="372.85" width="1.70" height="1.70" fill="#161616"/>
<rect x="589.35" y="381.05" width="1.70" height="1.70" fill="#161616"/>
<rect x="592.15" y="393.45" width="1.70" height="1.70" fill="#161616"/>
<rect x="597.55" y="399.65" width="1.70" height="1.70" fill="#161616"/>
<rect x="596.35" y="401.05" width="1.70" height="1.70" fill="#161616"/>
<rect x="594.85" y="406.55" width="1.70" height="1.70" fill="#161616"/>
<rect x="593.35" y="411.65" width="1.70" height="1.70" fill="#161616"/>
<line x1="611.50" y1="380.40" x2="611.50" y2="403.40" stroke="#657b88" stroke-width="1"/>
<line x1="610.00" y1="380.50" x2="613.00" y2="380.50" stroke="#657b88" stroke-width="1"/>
<line x1="610.00" y1="403.50" x2="613.00" y2="403.50" stroke="#657b88" stroke-width="1"/>
<line x1="605.65" y1="391.50" x2="617.05" y2="391.50" stroke="#62798a" stroke-width="1"/>
<rect x="611.00" y="371.85" width="1.70" height="1.70" fill="#161616"/>
<rect x="606.80" y="377.75" width="1.70" height="1.70" fill="#161616"/>
<rect x="615.60" y="385.55" width="1.70" height="1.70" fill="#161616"/>
<rect x="605.20" y="391.95" width="1.70" height="1.70" fill="#161616"/>
<rect x="608.30" y="397.85" width="1.70" height="1.70" fill="#161616"/>
<rect x="614.10" y="399.25" width="1.70" height="1.70" fill="#161616"/>
<rect x="612.80" y="401.05" width="1.70" height="1.70" fill="#161616"/>
<rect x="609.60" y="402.55" width="1.70" height="1.70" fill="#161616"/>
<line x1="627.50" y1="379.10" x2="627.50" y2="397.40" stroke="#657b88" stroke-width="1"/>
<line x1="626.00" y1="379.50" x2="629.00" y2="379.50" stroke="#657b88" stroke-width="1"/>
<line x1="626.00" y1="397.50" x2="629.00" y2="397.50" stroke="#657b88" stroke-width="1"/>
<line x1="622.20" y1="388.50" x2="633.60" y2="388.50" stroke="#62798a" stroke-width="1"/>
<rect x="627.95" y="373.75" width="1.70" height="1.70" fill="#161616"/>
<rect x="623.55" y="379.55" width="1.70" height="1.70" fill="#161616"/>
<rect x="631.75" y="383.75" width="1.70" height="1.70" fill="#161616"/>
<rect x="622.15" y="386.45" width="1.70" height="1.70" fill="#161616"/>
<rect x="625.45" y="391.05" width="1.70" height="1.70" fill="#161616"/>
<rect x="630.85" y="395.25" width="1.70" height="1.70" fill="#161616"/>
<rect x="629.05" y="406.95" width="1.70" height="1.70" fill="#161616"/>
<text x="627.90" y="378.48" font-size="6.9" text-anchor="middle" fill="#ff1e2d" style="stroke:none" font-family="DejaVu Sans" letter-spacing="-0.9">★</text>
<path d="M519.50,335.75 V419.75 H637.50" fill="none" stroke="#555555" stroke-width="1.6"/>
<line x1="516.90" y1="419.75" x2="519.50" y2="419.75" stroke="#555555" stroke-width="1.2"/>
<text x="513.50" y="422.25" font-size="7" text-anchor="end" fill="#2a2a2a" >0</text>
<line x1="516.90" y1="398.75" x2="519.50" y2="398.75" stroke="#555555" stroke-width="1.2"/>
<text x="513.50" y="401.25" font-size="7" text-anchor="end" fill="#2a2a2a" >1</text>
<line x1="516.90" y1="377.75" x2="519.50" y2="377.75" stroke="#555555" stroke-width="1.2"/>
<text x="513.50" y="380.25" font-size="7" text-anchor="end" fill="#2a2a2a" >2</text>
<line x1="516.90" y1="356.75" x2="519.50" y2="356.75" stroke="#555555" stroke-width="1.2"/>
<text x="513.50" y="359.25" font-size="7" text-anchor="end" fill="#2a2a2a" >3</text>
<line x1="516.90" y1="335.75" x2="519.50" y2="335.75" stroke="#555555" stroke-width="1.2"/>
<text x="513.50" y="338.25" font-size="7" text-anchor="end" fill="#2a2a2a" >4</text>
<text transform="translate(504.40,376.25) rotate(-90)" font-size="7.1" text-anchor="middle" fill="#1e1e1e">relative E2 production</text>
<text x="584.20" y="330.65" font-size="9.9" text-anchor="middle" fill="#111" style="stroke-width:0.25px">adrenaline</text>
<text transform="translate(522.10,344.75) scale(0.93,1)" font-size="7.75" fill="#1e1e1e">adrenaline (-) = 1</text>
<text x="527.70" y="431.05" font-size="9.2" text-anchor="middle" fill="#1e1e1e" >(-)</text>
<text transform="translate(540.55,424.45) scale(0.9,1) rotate(57)" font-size="7.15" fill="#1e1e1e">10 pg/ml</text>
<text transform="translate(557.10,424.45) scale(0.9,1) rotate(57)" font-size="7.15" fill="#1e1e1e">100 pg/ml</text>
<text transform="translate(573.65,424.45) scale(0.9,1) rotate(57)" font-size="7.15" fill="#1e1e1e">1 ng/ml</text>
<text transform="translate(590.20,424.45) scale(0.9,1) rotate(57)" font-size="7.15" fill="#1e1e1e">10 ng/ml</text>
<text transform="translate(606.75,424.45) scale(0.9,1) rotate(57)" font-size="7.15" fill="#1e1e1e">100 ng/ml</text>
<text transform="translate(623.30,424.45) scale(0.9,1) rotate(57)" font-size="7.15" fill="#1e1e1e">1 µg/ml</text>
<line x1="56.00" y1="503.20" x2="172.00" y2="503.20" stroke="#a0a0a0" stroke-width="0.9" stroke-dasharray="0.9 2.0"/>
<line x1="56.00" y1="475.20" x2="172.00" y2="475.20" stroke="#a0a0a0" stroke-width="0.9" stroke-dasharray="0.9 2.0"/>
<line x1="54.00" y1="531.50" x2="172.00" y2="531.50" stroke="#9c9c9c" stroke-width="1.1"/>
<line x1="57.00" y1="531.50" x2="68.60" y2="531.50" stroke="#111" stroke-width="1.2"/>
<line x1="79.50" y1="512.50" x2="79.50" y2="530.20" stroke="#657b88" stroke-width="1"/>
<line x1="78.00" y1="512.50" x2="81.00" y2="512.50" stroke="#657b88" stroke-width="1"/>
<line x1="78.00" y1="530.50" x2="81.00" y2="530.50" stroke="#657b88" stroke-width="1"/>
<line x1="73.95" y1="520.00" x2="85.35" y2="520.00" stroke="#a4b3bb" stroke-width="2"/>
<rect x="75.20" y="507.95" width="1.70" height="1.70" fill="#161616"/>
<rect x="78.70" y="508.35" width="1.70" height="1.70" fill="#161616"/>
<rect x="80.50" y="511.65" width="1.70" height="1.70" fill="#161616"/>
<rect x="76.80" y="523.15" width="1.70" height="1.70" fill="#161616"/>
<rect x="73.70" y="524.45" width="1.70" height="1.70" fill="#161616"/>
<rect x="81.90" y="525.85" width="1.70" height="1.70" fill="#161616"/>
<rect x="77.90" y="529.85" width="1.70" height="1.70" fill="#161616"/>
<rect x="83.40" y="529.85" width="1.70" height="1.70" fill="#161616"/>
<text x="79.65" y="506.38" font-size="6.9" text-anchor="middle" fill="#ff1e2d" style="stroke:none" font-family="DejaVu Sans" letter-spacing="-0.9">★★</text>
<line x1="96.50" y1="503.40" x2="96.50" y2="528.90" stroke="#657b88" stroke-width="1"/>
<line x1="95.00" y1="503.50" x2="98.00" y2="503.50" stroke="#657b88" stroke-width="1"/>
<line x1="95.00" y1="528.50" x2="98.00" y2="528.50" stroke="#657b88" stroke-width="1"/>
<line x1="90.50" y1="515.50" x2="101.90" y2="515.50" stroke="#62798a" stroke-width="1"/>
<rect x="92.05" y="500.15" width="1.70" height="1.70" fill="#161616"/>
<rect x="96.55" y="500.15" width="1.70" height="1.70" fill="#161616"/>
<rect x="97.55" y="506.75" width="1.70" height="1.70" fill="#161616"/>
<rect x="99.35" y="508.85" width="1.70" height="1.70" fill="#161616"/>
<rect x="94.45" y="520.75" width="1.70" height="1.70" fill="#161616"/>
<rect x="90.75" y="524.45" width="1.70" height="1.70" fill="#161616"/>
<rect x="93.35" y="528.05" width="1.70" height="1.70" fill="#161616"/>
<rect x="99.85" y="527.55" width="1.70" height="1.70" fill="#161616"/>
<text x="96.20" y="499.78" font-size="6.9" text-anchor="middle" fill="#ff1e2d" style="stroke:none" font-family="DejaVu Sans" letter-spacing="-0.9">★★</text>
<line x1="112.50" y1="505.20" x2="112.50" y2="528.90" stroke="#657b88" stroke-width="1"/>
<line x1="111.00" y1="505.50" x2="114.00" y2="505.50" stroke="#657b88" stroke-width="1"/>
<line x1="111.00" y1="528.50" x2="114.00" y2="528.50" stroke="#657b88" stroke-width="1"/>
<line x1="107.05" y1="517.50" x2="118.45" y2="517.50" stroke="#62798a" stroke-width="1"/>
<rect x="111.30" y="495.75" width="1.70" height="1.70" fill="#161616"/>
<rect x="107.70" y="506.15" width="1.70" height="1.70" fill="#161616"/>
<rect x="114.60" y="512.55" width="1.70" height="1.70" fill="#161616"/>
<rect x="113.20" y="517.15" width="1.70" height="1.70" fill="#161616"/>
<rect x="112.80" y="520.25" width="1.70" height="1.70" fill="#161616"/>
<rect x="108.60" y="523.85" width="1.70" height="1.70" fill="#161616"/>
<rect x="115.90" y="528.95" width="1.70" height="1.70" fill="#161616"/>
<rect x="116.80" y="530.75" width="1.70" height="1.70" fill="#161616"/>
<text x="112.75" y="503.98" font-size="6.9" text-anchor="middle" fill="#ff1e2d" style="stroke:none" font-family="DejaVu Sans" letter-spacing="-0.9">★★</text>
<line x1="129.00" y1="493.70" x2="129.00" y2="535.30" stroke="#a4b3bb" stroke-width="2"/>
<line x1="127.00" y1="493.50" x2="131.00" y2="493.50" stroke="#a4b3bb" stroke-width="1"/>
<line x1="127.00" y1="535.50" x2="131.00" y2="535.50" stroke="#a4b3bb" stroke-width="1"/>
<line x1="123.60" y1="514.50" x2="135.00" y2="514.50" stroke="#62798a" stroke-width="1"/>
<rect x="124.25" y="516.15" width="1.70" height="1.70" fill="#161616"/>
<rect x="130.25" y="515.25" width="1.70" height="1.70" fill="#161616"/>
<rect x="133.35" y="514.95" width="1.70" height="1.70" fill="#161616"/>
<rect x="123.35" y="520.25" width="1.70" height="1.70" fill="#161616"/>
<rect x="130.65" y="524.45" width="1.70" height="1.70" fill="#161616"/>
<rect x="126.45" y="526.25" width="1.70" height="1.70" fill="#161616"/>
<rect x="132.45" y="535.95" width="1.70" height="1.70" fill="#161616"/>
<text x="129.30" y="492.48" font-size="6.9" text-anchor="middle" fill="#ff1e2d" style="stroke:none" font-family="DejaVu Sans" letter-spacing="-0.9">★</text>
<line x1="146.00" y1="511.90" x2="146.00" y2="531.60" stroke="#a4b3bb" stroke-width="2"/>
<line x1="144.00" y1="511.50" x2="148.00" y2="511.50" stroke="#a4b3bb" stroke-width="1"/>
<line x1="144.00" y1="531.50" x2="148.00" y2="531.50" stroke="#a4b3bb" stroke-width="1"/>
<line x1="140.15" y1="522.00" x2="151.55" y2="522.00" stroke="#a4b3bb" stroke-width="2"/>
<rect x="146.30" y="512.15" width="1.70" height="1.70" fill="#161616"/>
<rect x="144.10" y="514.05" width="1.70" height="1.70" fill="#161616"/>
<rect x="140.30" y="516.15" width="1.70" height="1.70" fill="#161616"/>
<rect x="147.20" y="519.45" width="1.70" height="1.70" fill="#161616"/>
<rect x="141.80" y="524.45" width="1.70" height="1.70" fill="#161616"/>
<rect x="141.20" y="527.15" width="1.70" height="1.70" fill="#161616"/>
<rect x="150.00" y="528.05" width="1.70" height="1.70" fill="#161616"/>
<rect x="149.10" y="537.15" width="1.70" height="1.70" fill="#161616"/>
<text x="145.85" y="510.78" font-size="6.9" text-anchor="middle" fill="#ff1e2d" style="stroke:none" font-family="DejaVu Sans" letter-spacing="-0.9">★</text>
<line x1="162.50" y1="518.50" x2="162.50" y2="537.10" stroke="#657b88" stroke-width="1"/>
<line x1="161.00" y1="518.50" x2="164.00" y2="518.50" stroke="#657b88" stroke-width="1"/>
<line x1="161.00" y1="537.50" x2="164.00" y2="537.50" stroke="#657b88" stroke-width="1"/>
<line x1="156.70" y1="528.00" x2="168.10" y2="528.00" stroke="#a4b3bb" stroke-width="2"/>
<rect x="160.15" y="522.55" width="1.70" height="1.70" fill="#161616"/>
<rect x="163.45" y="523.15" width="1.70" height="1.70" fill="#161616"/>
<rect x="166.15" y="523.45" width="1.70" height="1.70" fill="#161616"/>
<rect x="163.95" y="530.75" width="1.70" height="1.70" fill="#161616"/>
<rect x="157.95" y="529.35" width="1.70" height="1.70" fill="#161616"/>
<rect x="157.05" y="537.15" width="1.70" height="1.70" fill="#161616"/>
<rect x="159.35" y="543.05" width="1.70" height="1.70" fill="#161616"/>
<rect x="127.65" y="461.45" width="1.70" height="1.70" fill="#161616"/>
<path d="M54.00,475.20 V559.20 H172.00" fill="none" stroke="#555555" stroke-width="1.6"/>
<line x1="51.40" y1="559.20" x2="54.00" y2="559.20" stroke="#555555" stroke-width="1.2"/>
<text x="48.00" y="561.70" font-size="7" text-anchor="end" fill="#2a2a2a" >0</text>
<line x1="51.40" y1="531.20" x2="54.00" y2="531.20" stroke="#555555" stroke-width="1.2"/>
<text x="48.00" y="533.70" font-size="7" text-anchor="end" fill="#2a2a2a" >1</text>
<line x1="51.40" y1="503.20" x2="54.00" y2="503.20" stroke="#555555" stroke-width="1.2"/>
<text x="48.00" y="505.70" font-size="7" text-anchor="end" fill="#2a2a2a" >2</text>
<line x1="51.40" y1="475.20" x2="54.00" y2="475.20" stroke="#555555" stroke-width="1.2"/>
<text x="48.00" y="477.70" font-size="7" text-anchor="end" fill="#2a2a2a" >3</text>
<text transform="translate(38.90,515.70) rotate(-90)" font-size="7.1" text-anchor="middle" fill="#1e1e1e">relative E2 production</text>
<text x="116.60" y="470.10" font-size="9.9" text-anchor="middle" fill="#111" style="stroke-width:0.25px">LPZ</text>
<text transform="translate(56.60,482.30) scale(0.93,1)" font-size="7.75" fill="#1e1e1e">LPZ (-) = 1</text>
<text x="62.20" y="570.50" font-size="9.2" text-anchor="middle" fill="#1e1e1e" >(-)</text>
<text transform="translate(75.05,563.90) scale(0.9,1) rotate(57)" font-size="7.15" fill="#1e1e1e">100 pM</text>
<text transform="translate(91.60,563.90) scale(0.9,1) rotate(57)" font-size="7.15" fill="#1e1e1e">1 nM</text>
<text transform="translate(108.15,563.90) scale(0.9,1) rotate(57)" font-size="7.15" fill="#1e1e1e">10 nM</text>
<text transform="translate(124.70,563.90) scale(0.9,1) rotate(57)" font-size="7.15" fill="#1e1e1e">100 nM</text>
<text transform="translate(141.25,563.90) scale(0.9,1) rotate(57)" font-size="7.15" fill="#1e1e1e">1 µM</text>
<text transform="translate(157.80,563.90) scale(0.9,1) rotate(57)" font-size="7.15" fill="#1e1e1e">10 µM</text>
<line x1="211.60" y1="538.20" x2="327.60" y2="538.20" stroke="#a0a0a0" stroke-width="0.9" stroke-dasharray="0.9 2.0"/>
<line x1="211.60" y1="496.20" x2="327.60" y2="496.20" stroke="#a0a0a0" stroke-width="0.9" stroke-dasharray="0.9 2.0"/>
<line x1="211.60" y1="475.20" x2="327.60" y2="475.20" stroke="#a0a0a0" stroke-width="0.9" stroke-dasharray="0.9 2.0"/>
<line x1="209.60" y1="516.50" x2="327.60" y2="516.50" stroke="#7e7e7e" stroke-width="1.0"/>
<line x1="212.60" y1="516.50" x2="224.20" y2="516.50" stroke="#111" stroke-width="1.2"/>
<line x1="235.50" y1="514.20" x2="235.50" y2="527.50" stroke="#657b88" stroke-width="1"/>
<line x1="234.00" y1="514.50" x2="237.00" y2="514.50" stroke="#657b88" stroke-width="1"/>
<line x1="234.00" y1="527.50" x2="237.00" y2="527.50" stroke="#657b88" stroke-width="1"/>
<line x1="229.55" y1="521.00" x2="240.95" y2="521.00" stroke="#a4b3bb" stroke-width="2"/>
<rect x="229.80" y="512.45" width="1.70" height="1.70" fill="#161616"/>
<rect x="231.30" y="512.45" width="1.70" height="1.70" fill="#161616"/>
<rect x="235.70" y="509.85" width="1.70" height="1.70" fill="#161616"/>
<rect x="232.60" y="519.35" width="1.70" height="1.70" fill="#161616"/>
<rect x="239.30" y="523.95" width="1.70" height="1.70" fill="#161616"/>
<rect x="233.50" y="523.95" width="1.70" height="1.70" fill="#161616"/>
<rect x="238.10" y="527.55" width="1.70" height="1.70" fill="#161616"/>
<rect x="236.60" y="532.15" width="1.70" height="1.70" fill="#161616"/>
<line x1="251.50" y1="510.20" x2="251.50" y2="531.20" stroke="#657b88" stroke-width="1"/>
<line x1="250.00" y1="510.50" x2="253.00" y2="510.50" stroke="#657b88" stroke-width="1"/>
<line x1="250.00" y1="531.50" x2="253.00" y2="531.50" stroke="#657b88" stroke-width="1"/>
<line x1="246.10" y1="521.00" x2="257.50" y2="521.00" stroke="#a4b3bb" stroke-width="2"/>
<rect x="247.85" y="500.75" width="1.70" height="1.70" fill="#161616"/>
<rect x="252.25" y="513.55" width="1.70" height="1.70" fill="#161616"/>
<rect x="253.75" y="514.85" width="1.70" height="1.70" fill="#161616"/>
<rect x="249.75" y="521.15" width="1.70" height="1.70" fill="#161616"/>
<rect x="249.15" y="523.05" width="1.70" height="1.70" fill="#161616"/>
<rect x="255.15" y="521.15" width="1.70" height="1.70" fill="#161616"/>
<rect x="256.45" y="527.95" width="1.70" height="1.70" fill="#161616"/>
<rect x="246.75" y="533.95" width="1.70" height="1.70" fill="#161616"/>
<line x1="268.50" y1="490.10" x2="268.50" y2="530.30" stroke="#657b88" stroke-width="1"/>
<line x1="267.00" y1="490.50" x2="270.00" y2="490.50" stroke="#657b88" stroke-width="1"/>
<line x1="267.00" y1="530.50" x2="270.00" y2="530.50" stroke="#657b88" stroke-width="1"/>
<line x1="262.65" y1="510.50" x2="274.05" y2="510.50" stroke="#62798a" stroke-width="1"/>
<rect x="263.30" y="471.05" width="1.70" height="1.70" fill="#161616"/>
<rect x="265.50" y="494.75" width="1.70" height="1.70" fill="#161616"/>
<rect x="262.80" y="502.95" width="1.70" height="1.70" fill="#161616"/>
<rect x="268.80" y="508.75" width="1.70" height="1.70" fill="#161616"/>
<rect x="271.20" y="512.65" width="1.70" height="1.70" fill="#161616"/>
<rect x="266.40" y="526.35" width="1.70" height="1.70" fill="#161616"/>
<rect x="269.70" y="529.95" width="1.70" height="1.70" fill="#161616"/>
<rect x="272.40" y="530.85" width="1.70" height="1.70" fill="#161616"/>
<line x1="285.00" y1="515.70" x2="285.00" y2="538.80" stroke="#a4b3bb" stroke-width="2"/>
<line x1="283.00" y1="515.50" x2="287.00" y2="515.50" stroke="#a4b3bb" stroke-width="1"/>
<line x1="283.00" y1="538.50" x2="287.00" y2="538.50" stroke="#a4b3bb" stroke-width="1"/>
<line x1="279.20" y1="525.50" x2="290.60" y2="525.50" stroke="#62798a" stroke-width="1"/>
<rect x="286.65" y="508.45" width="1.70" height="1.70" fill="#161616"/>
<rect x="280.75" y="513.55" width="1.70" height="1.70" fill="#161616"/>
<rect x="282.95" y="516.05" width="1.70" height="1.70" fill="#161616"/>
<rect x="278.95" y="525.75" width="1.70" height="1.70" fill="#161616"/>
<rect x="281.75" y="533.65" width="1.70" height="1.70" fill="#161616"/>
<rect x="284.95" y="537.95" width="1.70" height="1.70" fill="#161616"/>
<rect x="287.75" y="533.05" width="1.70" height="1.70" fill="#161616"/>
<line x1="301.50" y1="503.20" x2="301.50" y2="531.20" stroke="#657b88" stroke-width="1"/>
<line x1="300.00" y1="503.50" x2="303.00" y2="503.50" stroke="#657b88" stroke-width="1"/>
<line x1="300.00" y1="531.50" x2="303.00" y2="531.50" stroke="#657b88" stroke-width="1"/>
<line x1="295.75" y1="517.50" x2="307.15" y2="517.50" stroke="#62798a" stroke-width="1"/>
<rect x="297.50" y="489.85" width="1.70" height="1.70" fill="#161616"/>
<rect x="302.90" y="508.45" width="1.70" height="1.70" fill="#161616"/>
<rect x="299.70" y="511.15" width="1.70" height="1.70" fill="#161616"/>
<rect x="305.70" y="516.65" width="1.70" height="1.70" fill="#161616"/>
<rect x="301.50" y="517.95" width="1.70" height="1.70" fill="#161616"/>
<rect x="304.40" y="519.75" width="1.70" height="1.70" fill="#161616"/>
<rect x="296.60" y="531.25" width="1.70" height="1.70" fill="#161616"/>
<rect x="298.70" y="533.05" width="1.70" height="1.70" fill="#161616"/>
<line x1="318.50" y1="511.50" x2="318.50" y2="522.40" stroke="#657b88" stroke-width="1"/>
<line x1="317.00" y1="511.50" x2="320.00" y2="511.50" stroke="#657b88" stroke-width="1"/>
<line x1="317.00" y1="522.50" x2="320.00" y2="522.50" stroke="#657b88" stroke-width="1"/>
<line x1="312.30" y1="517.50" x2="323.70" y2="517.50" stroke="#62798a" stroke-width="1"/>
<rect x="312.65" y="510.25" width="1.70" height="1.70" fill="#161616"/>
<rect x="315.75" y="506.95" width="1.70" height="1.70" fill="#161616"/>
<rect x="321.75" y="512.95" width="1.70" height="1.70" fill="#161616"/>
<rect x="313.55" y="517.15" width="1.70" height="1.70" fill="#161616"/>
<rect x="318.05" y="517.15" width="1.70" height="1.70" fill="#161616"/>
<rect x="320.25" y="519.05" width="1.70" height="1.70" fill="#161616"/>
<rect x="318.65" y="523.35" width="1.70" height="1.70" fill="#161616"/>
<rect x="314.85" y="526.15" width="1.70" height="1.70" fill="#161616"/>
<path d="M209.60,475.20 V559.20 H327.60" fill="none" stroke="#555555" stroke-width="1.6"/>
<line x1="207.00" y1="559.20" x2="209.60" y2="559.20" stroke="#555555" stroke-width="1.2"/>
<text x="203.60" y="561.70" font-size="7" text-anchor="end" fill="#2a2a2a" >0</text>
<line x1="207.00" y1="538.20" x2="209.60" y2="538.20" stroke="#555555" stroke-width="1.2"/>
<text x="203.60" y="540.70" font-size="7" text-anchor="end" fill="#2a2a2a" >0.5</text>
<line x1="207.00" y1="517.20" x2="209.60" y2="517.20" stroke="#555555" stroke-width="1.2"/>
<text x="203.60" y="519.70" font-size="7" text-anchor="end" fill="#2a2a2a" >1.0</text>
<line x1="207.00" y1="496.20" x2="209.60" y2="496.20" stroke="#555555" stroke-width="1.2"/>
<text x="203.60" y="498.70" font-size="7" text-anchor="end" fill="#2a2a2a" >1.5</text>
<line x1="207.00" y1="475.20" x2="209.60" y2="475.20" stroke="#555555" stroke-width="1.2"/>
<text x="203.60" y="477.70" font-size="7" text-anchor="end" fill="#2a2a2a" >2.0</text>
<text transform="translate(190.30,515.70) rotate(-90)" font-size="7.1" text-anchor="middle" fill="#1e1e1e">relative E2 production</text>
<text x="270.70" y="470.10" font-size="9.9" text-anchor="middle" fill="#111" style="stroke-width:0.25px">insulin</text>
<text transform="translate(212.20,482.30) scale(0.93,1)" font-size="7.75" fill="#1e1e1e">insulin (-) = 1</text>
<text x="217.80" y="570.50" font-size="9.2" text-anchor="middle" fill="#1e1e1e" >(-)</text>
<text transform="translate(230.65,563.90) scale(0.9,1) rotate(57)" font-size="7.15" fill="#1e1e1e">30 pg/ml</text>
<text transform="translate(247.20,563.90) scale(0.9,1) rotate(57)" font-size="7.15" fill="#1e1e1e">100 pg/ml</text>
<text transform="translate(263.75,563.90) scale(0.9,1) rotate(57)" font-size="7.15" fill="#1e1e1e">300 pg/ml</text>
<text transform="translate(280.30,563.90) scale(0.9,1) rotate(57)" font-size="7.15" fill="#1e1e1e">1 ng/ml</text>
<text transform="translate(296.85,563.90) scale(0.9,1) rotate(57)" font-size="7.15" fill="#1e1e1e">3 ng/ml</text>
<text transform="translate(313.40,563.90) scale(0.9,1) rotate(57)" font-size="7.15" fill="#1e1e1e">10 ng/ml</text>
<line x1="366.50" y1="503.20" x2="482.50" y2="503.20" stroke="#a0a0a0" stroke-width="0.9" stroke-dasharray="0.9 2.0"/>
<line x1="366.50" y1="475.20" x2="482.50" y2="475.20" stroke="#a0a0a0" stroke-width="0.9" stroke-dasharray="0.9 2.0"/>
<line x1="364.50" y1="531.20" x2="482.50" y2="531.20" stroke="#c6c6c6" stroke-width="1.7"/>
<line x1="367.50" y1="531.20" x2="379.10" y2="531.20" stroke="#111" stroke-width="1.2"/>
<line x1="390.50" y1="528.40" x2="390.50" y2="539.40" stroke="#657b88" stroke-width="1"/>
<line x1="389.00" y1="528.50" x2="392.00" y2="528.50" stroke="#657b88" stroke-width="1"/>
<line x1="389.00" y1="539.50" x2="392.00" y2="539.50" stroke="#657b88" stroke-width="1"/>
<line x1="384.45" y1="533.50" x2="395.85" y2="533.50" stroke="#62798a" stroke-width="1"/>
<rect x="385.80" y="522.65" width="1.70" height="1.70" fill="#161616"/>
<rect x="388.10" y="534.35" width="1.70" height="1.70" fill="#161616"/>
<rect x="389.80" y="536.25" width="1.70" height="1.70" fill="#161616"/>
<rect x="391.40" y="529.25" width="1.70" height="1.70" fill="#161616"/>
<rect x="392.80" y="528.05" width="1.70" height="1.70" fill="#161616"/>
<rect x="387.00" y="533.45" width="1.70" height="1.70" fill="#161616"/>
<rect x="395.10" y="542.05" width="1.70" height="1.70" fill="#161616"/>
<line x1="406.50" y1="523.10" x2="406.50" y2="546.40" stroke="#657b88" stroke-width="1"/>
<line x1="405.00" y1="523.50" x2="408.00" y2="523.50" stroke="#657b88" stroke-width="1"/>
<line x1="405.00" y1="546.50" x2="408.00" y2="546.50" stroke="#657b88" stroke-width="1"/>
<line x1="401.00" y1="535.00" x2="412.40" y2="535.00" stroke="#a4b3bb" stroke-width="2"/>
<rect x="402.85" y="516.35" width="1.70" height="1.70" fill="#161616"/>
<rect x="407.55" y="519.85" width="1.70" height="1.70" fill="#161616"/>
<rect x="409.15" y="524.05" width="1.70" height="1.70" fill="#161616"/>
<rect x="403.35" y="537.45" width="1.70" height="1.70" fill="#161616"/>
<rect x="406.35" y="545.55" width="1.70" height="1.70" fill="#161616"/>
<rect x="410.55" y="541.35" width="1.70" height="1.70" fill="#161616"/>
<rect x="412.25" y="547.45" width="1.70" height="1.70" fill="#161616"/>
<line x1="423.00" y1="506.70" x2="423.00" y2="544.10" stroke="#a4b3bb" stroke-width="2"/>
<line x1="421.00" y1="506.50" x2="425.00" y2="506.50" stroke="#a4b3bb" stroke-width="1"/>
<line x1="421.00" y1="544.50" x2="425.00" y2="544.50" stroke="#a4b3bb" stroke-width="1"/>
<line x1="417.55" y1="525.50" x2="428.95" y2="525.50" stroke="#62798a" stroke-width="1"/>
<rect x="418.20" y="481.35" width="1.70" height="1.70" fill="#161616"/>
<rect x="423.30" y="515.65" width="1.70" height="1.70" fill="#161616"/>
<rect x="427.00" y="524.05" width="1.70" height="1.70" fill="#161616"/>
<rect x="424.70" y="528.75" width="1.70" height="1.70" fill="#161616"/>
<rect x="425.90" y="530.35" width="1.70" height="1.70" fill="#161616"/>
<rect x="421.00" y="533.85" width="1.70" height="1.70" fill="#161616"/>
<rect x="419.30" y="539.05" width="1.70" height="1.70" fill="#161616"/>
<rect x="420.50" y="540.95" width="1.70" height="1.70" fill="#161616"/>
<line x1="439.50" y1="506.70" x2="439.50" y2="548.30" stroke="#657b88" stroke-width="1"/>
<line x1="438.00" y1="506.50" x2="441.00" y2="506.50" stroke="#657b88" stroke-width="1"/>
<line x1="438.00" y1="548.50" x2="441.00" y2="548.50" stroke="#657b88" stroke-width="1"/>
<line x1="434.10" y1="528.00" x2="445.50" y2="528.00" stroke="#a4b3bb" stroke-width="2"/>
<rect x="434.75" y="476.65" width="1.70" height="1.70" fill="#161616"/>
<rect x="440.65" y="518.75" width="1.70" height="1.70" fill="#161616"/>
<rect x="437.55" y="531.05" width="1.70" height="1.70" fill="#161616"/>
<rect x="444.15" y="531.55" width="1.70" height="1.70" fill="#161616"/>
<rect x="435.95" y="540.95" width="1.70" height="1.70" fill="#161616"/>
<rect x="442.45" y="542.75" width="1.70" height="1.70" fill="#161616"/>
<rect x="437.15" y="547.45" width="1.70" height="1.70" fill="#161616"/>
<line x1="456.50" y1="497.40" x2="456.50" y2="548.30" stroke="#657b88" stroke-width="1"/>
<line x1="455.00" y1="497.50" x2="458.00" y2="497.50" stroke="#657b88" stroke-width="1"/>
<line x1="455.00" y1="548.50" x2="458.00" y2="548.50" stroke="#657b88" stroke-width="1"/>
<line x1="450.65" y1="523.50" x2="462.05" y2="523.50" stroke="#62798a" stroke-width="1"/>
<rect x="451.30" y="466.85" width="1.70" height="1.70" fill="#161616"/>
<rect x="453.20" y="508.25" width="1.70" height="1.70" fill="#161616"/>
<rect x="457.40" y="516.35" width="1.70" height="1.70" fill="#161616"/>
<rect x="460.70" y="536.95" width="1.70" height="1.70" fill="#161616"/>
<rect x="454.40" y="539.75" width="1.70" height="1.70" fill="#161616"/>
<rect x="452.00" y="543.75" width="1.70" height="1.70" fill="#161616"/>
<rect x="456.00" y="547.45" width="1.70" height="1.70" fill="#161616"/>
<line x1="472.50" y1="510.90" x2="472.50" y2="546.40" stroke="#657b88" stroke-width="1"/>
<line x1="471.00" y1="510.50" x2="474.00" y2="510.50" stroke="#657b88" stroke-width="1"/>
<line x1="471.00" y1="546.50" x2="474.00" y2="546.50" stroke="#657b88" stroke-width="1"/>
<line x1="467.20" y1="528.50" x2="478.60" y2="528.50" stroke="#62798a" stroke-width="1"/>
<rect x="468.55" y="496.05" width="1.70" height="1.70" fill="#161616"/>
<rect x="472.75" y="505.85" width="1.70" height="1.70" fill="#161616"/>
<rect x="475.55" y="525.75" width="1.70" height="1.70" fill="#161616"/>
<rect x="469.25" y="537.45" width="1.70" height="1.70" fill="#161616"/>
<rect x="470.85" y="536.25" width="1.70" height="1.70" fill="#161616"/>
<rect x="474.85" y="536.25" width="1.70" height="1.70" fill="#161616"/>
<rect x="477.15" y="544.45" width="1.70" height="1.70" fill="#161616"/>
<rect x="470.85" y="545.55" width="1.70" height="1.70" fill="#161616"/>
<path d="M364.50,475.20 V559.20 H482.50" fill="none" stroke="#555555" stroke-width="1.6"/>
<line x1="361.90" y1="559.20" x2="364.50" y2="559.20" stroke="#555555" stroke-width="1.2"/>
<text x="358.50" y="561.70" font-size="7" text-anchor="end" fill="#2a2a2a" >0</text>
<line x1="361.90" y1="531.20" x2="364.50" y2="531.20" stroke="#555555" stroke-width="1.2"/>
<text x="358.50" y="533.70" font-size="7" text-anchor="end" fill="#2a2a2a" >1</text>
<line x1="361.90" y1="503.20" x2="364.50" y2="503.20" stroke="#555555" stroke-width="1.2"/>
<text x="358.50" y="505.70" font-size="7" text-anchor="end" fill="#2a2a2a" >2</text>
<line x1="361.90" y1="475.20" x2="364.50" y2="475.20" stroke="#555555" stroke-width="1.2"/>
<text x="358.50" y="477.70" font-size="7" text-anchor="end" fill="#2a2a2a" >3</text>
<text transform="translate(349.40,515.70) rotate(-90)" font-size="7.1" text-anchor="middle" fill="#1e1e1e">relative E2 production</text>
<text x="427.10" y="470.10" font-size="9.9" text-anchor="middle" fill="#111" style="stroke-width:0.25px">leptin</text>
<text transform="translate(367.10,482.30) scale(0.93,1)" font-size="7.75" fill="#1e1e1e">leptin (-) = 1</text>
<text x="372.70" y="570.50" font-size="9.2" text-anchor="middle" fill="#1e1e1e" >(-)</text>
<text transform="translate(385.55,563.90) scale(0.9,1) rotate(57)" font-size="7.15" fill="#1e1e1e">1 ng/ml</text>
<text transform="translate(402.10,563.90) scale(0.9,1) rotate(57)" font-size="7.15" fill="#1e1e1e">3 ng/ml</text>
<text transform="translate(418.65,563.90) scale(0.9,1) rotate(57)" font-size="7.15" fill="#1e1e1e">10 ng/ml</text>
<text transform="translate(435.20,563.90) scale(0.9,1) rotate(57)" font-size="7.15" fill="#1e1e1e">30 ng/ml</text>
<text transform="translate(451.75,563.90) scale(0.9,1) rotate(57)" font-size="7.15" fill="#1e1e1e">100 ng/ml</text>
<text transform="translate(468.30,563.90) scale(0.9,1) rotate(57)" font-size="7.15" fill="#1e1e1e">300 ng/ml</text>
<line x1="521.60" y1="538.20" x2="637.60" y2="538.20" stroke="#a0a0a0" stroke-width="0.9" stroke-dasharray="0.9 2.0"/>
<line x1="521.60" y1="496.20" x2="637.60" y2="496.20" stroke="#a0a0a0" stroke-width="0.9" stroke-dasharray="0.9 2.0"/>
<line x1="521.60" y1="475.20" x2="637.60" y2="475.20" stroke="#a0a0a0" stroke-width="0.9" stroke-dasharray="0.9 2.0"/>
<line x1="519.60" y1="516.50" x2="637.60" y2="516.50" stroke="#9c9c9c" stroke-width="1.1"/>
<line x1="522.60" y1="516.50" x2="534.20" y2="516.50" stroke="#111" stroke-width="1.2"/>
<line x1="545.50" y1="514.70" x2="545.50" y2="520.20" stroke="#657b88" stroke-width="1"/>
<line x1="544.00" y1="514.50" x2="547.00" y2="514.50" stroke="#657b88" stroke-width="1"/>
<line x1="544.00" y1="520.50" x2="547.00" y2="520.50" stroke="#657b88" stroke-width="1"/>
<line x1="539.55" y1="519.00" x2="550.95" y2="519.00" stroke="#a4b3bb" stroke-width="2"/>
<rect x="543.90" y="513.35" width="1.70" height="1.70" fill="#161616"/>
<rect x="542.10" y="515.75" width="1.70" height="1.70" fill="#161616"/>
<rect x="540.60" y="517.55" width="1.70" height="1.70" fill="#161616"/>
<rect x="545.40" y="516.05" width="1.70" height="1.70" fill="#161616"/>
<rect x="547.20" y="517.55" width="1.70" height="1.70" fill="#161616"/>
<rect x="548.50" y="519.35" width="1.70" height="1.70" fill="#161616"/>
<rect x="546.10" y="518.45" width="1.70" height="1.70" fill="#161616"/>
<line x1="562.00" y1="504.30" x2="562.00" y2="524.80" stroke="#a4b3bb" stroke-width="2"/>
<line x1="560.00" y1="504.50" x2="564.00" y2="504.50" stroke="#a4b3bb" stroke-width="1"/>
<line x1="560.00" y1="524.50" x2="564.00" y2="524.50" stroke="#a4b3bb" stroke-width="1"/>
<line x1="556.10" y1="515.00" x2="567.50" y2="515.00" stroke="#a4b3bb" stroke-width="2"/>
<rect x="558.75" y="494.15" width="1.70" height="1.70" fill="#161616"/>
<rect x="562.85" y="504.45" width="1.70" height="1.70" fill="#161616"/>
<rect x="565.95" y="508.75" width="1.70" height="1.70" fill="#161616"/>
<rect x="563.75" y="516.05" width="1.70" height="1.70" fill="#161616"/>
<rect x="560.05" y="517.95" width="1.70" height="1.70" fill="#161616"/>
<rect x="556.45" y="518.45" width="1.70" height="1.70" fill="#161616"/>
<rect x="564.65" y="523.95" width="1.70" height="1.70" fill="#161616"/>
<rect x="557.65" y="528.85" width="1.70" height="1.70" fill="#161616"/>
<line x1="578.50" y1="505.60" x2="578.50" y2="520.20" stroke="#657b88" stroke-width="1"/>
<line x1="577.00" y1="505.50" x2="580.00" y2="505.50" stroke="#657b88" stroke-width="1"/>
<line x1="577.00" y1="520.50" x2="580.00" y2="520.50" stroke="#657b88" stroke-width="1"/>
<line x1="572.65" y1="513.50" x2="584.05" y2="513.50" stroke="#62798a" stroke-width="1"/>
<rect x="574.40" y="505.65" width="1.70" height="1.70" fill="#161616"/>
<rect x="577.50" y="505.65" width="1.70" height="1.70" fill="#161616"/>
<rect x="578.70" y="504.75" width="1.70" height="1.70" fill="#161616"/>
<rect x="576.20" y="508.05" width="1.70" height="1.70" fill="#161616"/>
<rect x="580.20" y="510.25" width="1.70" height="1.70" fill="#161616"/>
<rect x="575.60" y="519.35" width="1.70" height="1.70" fill="#161616"/>
<rect x="580.60" y="520.85" width="1.70" height="1.70" fill="#161616"/>
<rect x="582.00" y="519.35" width="1.70" height="1.70" fill="#161616"/>
<line x1="594.50" y1="508.00" x2="594.50" y2="523.90" stroke="#657b88" stroke-width="1"/>
<line x1="593.00" y1="508.50" x2="596.00" y2="508.50" stroke="#657b88" stroke-width="1"/>
<line x1="593.00" y1="523.50" x2="596.00" y2="523.50" stroke="#657b88" stroke-width="1"/>
<line x1="589.20" y1="515.50" x2="600.60" y2="515.50" stroke="#62798a" stroke-width="1"/>
<rect x="595.95" y="500.25" width="1.70" height="1.70" fill="#161616"/>
<rect x="591.95" y="511.15" width="1.70" height="1.70" fill="#161616"/>
<rect x="594.65" y="512.05" width="1.70" height="1.70" fill="#161616"/>
<rect x="592.85" y="513.55" width="1.70" height="1.70" fill="#161616"/>
<rect x="598.65" y="515.75" width="1.70" height="1.70" fill="#161616"/>
<rect x="590.45" y="523.35" width="1.70" height="1.70" fill="#161616"/>
<rect x="597.35" y="527.05" width="1.70" height="1.70" fill="#161616"/>
<line x1="611.50" y1="508.00" x2="611.50" y2="521.50" stroke="#657b88" stroke-width="1"/>
<line x1="610.00" y1="508.50" x2="613.00" y2="508.50" stroke="#657b88" stroke-width="1"/>
<line x1="610.00" y1="521.50" x2="613.00" y2="521.50" stroke="#657b88" stroke-width="1"/>
<line x1="605.75" y1="514.50" x2="617.15" y2="514.50" stroke="#62798a" stroke-width="1"/>
<rect x="613.30" y="500.75" width="1.70" height="1.70" fill="#161616"/>
<rect x="609.30" y="508.05" width="1.70" height="1.70" fill="#161616"/>
<rect x="606.40" y="513.55" width="1.70" height="1.70" fill="#161616"/>
<rect x="614.30" y="513.55" width="1.70" height="1.70" fill="#161616"/>
<rect x="615.70" y="514.85" width="1.70" height="1.70" fill="#161616"/>
<rect x="609.70" y="518.45" width="1.70" height="1.70" fill="#161616"/>
<rect x="611.90" y="519.35" width="1.70" height="1.70" fill="#161616"/>
<rect x="607.50" y="525.75" width="1.70" height="1.70" fill="#161616"/>
<line x1="628.00" y1="505.30" x2="628.00" y2="535.40" stroke="#a4b3bb" stroke-width="2"/>
<line x1="626.00" y1="505.50" x2="630.00" y2="505.50" stroke="#a4b3bb" stroke-width="1"/>
<line x1="626.00" y1="535.50" x2="630.00" y2="535.50" stroke="#a4b3bb" stroke-width="1"/>
<line x1="622.30" y1="520.50" x2="633.70" y2="520.50" stroke="#62798a" stroke-width="1"/>
<rect x="627.55" y="498.95" width="1.70" height="1.70" fill="#161616"/>
<rect x="625.95" y="512.45" width="1.70" height="1.70" fill="#161616"/>
<rect x="629.05" y="512.45" width="1.70" height="1.70" fill="#161616"/>
<rect x="631.75" y="516.05" width="1.70" height="1.70" fill="#161616"/>
<rect x="623.55" y="524.85" width="1.70" height="1.70" fill="#161616"/>
<rect x="625.35" y="525.75" width="1.70" height="1.70" fill="#161616"/>
<rect x="622.65" y="555.55" width="1.70" height="1.70" fill="#161616"/>
<path d="M519.60,475.20 V559.20 H637.60" fill="none" stroke="#555555" stroke-width="1.6"/>
<line x1="517.00" y1="559.20" x2="519.60" y2="559.20" stroke="#555555" stroke-width="1.2"/>
<text x="513.60" y="561.70" font-size="7" text-anchor="end" fill="#2a2a2a" >0</text>
<line x1="517.00" y1="538.20" x2="519.60" y2="538.20" stroke="#555555" stroke-width="1.2"/>
<text x="513.60" y="540.70" font-size="7" text-anchor="end" fill="#2a2a2a" >0.5</text>
<line x1="517.00" y1="517.20" x2="519.60" y2="517.20" stroke="#555555" stroke-width="1.2"/>
<text x="513.60" y="519.70" font-size="7" text-anchor="end" fill="#2a2a2a" >1.0</text>
<line x1="517.00" y1="496.20" x2="519.60" y2="496.20" stroke="#555555" stroke-width="1.2"/>
<text x="513.60" y="498.70" font-size="7" text-anchor="end" fill="#2a2a2a" >1.5</text>
<line x1="517.00" y1="475.20" x2="519.60" y2="475.20" stroke="#555555" stroke-width="1.2"/>
<text x="513.60" y="477.70" font-size="7" text-anchor="end" fill="#2a2a2a" >2.0</text>
<text transform="translate(500.30,515.70) rotate(-90)" font-size="7.1" text-anchor="middle" fill="#1e1e1e">relative E2 production</text>
<text x="581.20" y="470.10" font-size="9.9" text-anchor="middle" fill="#111" style="stroke-width:0.25px">T3</text>
<text transform="translate(522.20,482.30) scale(0.93,1)" font-size="7.75" fill="#1e1e1e">T3 (-) = 1</text>
<text x="527.80" y="570.50" font-size="9.2" text-anchor="middle" fill="#1e1e1e" >(-)</text>
<text transform="translate(540.65,563.90) scale(0.9,1) rotate(57)" font-size="7.15" fill="#1e1e1e">0.5 pg/ml</text>
<text transform="translate(557.20,563.90) scale(0.9,1) rotate(57)" font-size="7.15" fill="#1e1e1e">1 pg/ml</text>
<text transform="translate(573.75,563.90) scale(0.9,1) rotate(57)" font-size="7.15" fill="#1e1e1e">2 pg/ml</text>
<text transform="translate(590.30,563.90) scale(0.9,1) rotate(57)" font-size="7.15" fill="#1e1e1e">4 pg/ml</text>
<text transform="translate(606.85,563.90) scale(0.9,1) rotate(57)" font-size="7.15" fill="#1e1e1e">8 pg/ml</text>
<text transform="translate(623.40,563.90) scale(0.9,1) rotate(57)" font-size="7.15" fill="#1e1e1e">16 pg/ml</text>
<line x1="66.80" y1="681.50" x2="198.10" y2="681.50" stroke="#a0a0a0" stroke-width="0.9" stroke-dasharray="0.9 2.0"/>
<line x1="66.80" y1="639.50" x2="198.10" y2="639.50" stroke="#a0a0a0" stroke-width="0.9" stroke-dasharray="0.9 2.0"/>
<line x1="66.80" y1="618.50" x2="198.10" y2="618.50" stroke="#a0a0a0" stroke-width="0.9" stroke-dasharray="0.9 2.0"/>
<line x1="64.80" y1="659.50" x2="198.10" y2="659.50" stroke="#8a8a8a" stroke-width="1"/>
<line x1="70.20" y1="659.50" x2="80.70" y2="659.50" stroke="#111" stroke-width="1.2"/>
<line x1="90.50" y1="634.30" x2="90.50" y2="650.50" stroke="#657b88" stroke-width="1"/>
<line x1="89.00" y1="634.50" x2="92.00" y2="634.50" stroke="#657b88" stroke-width="1"/>
<line x1="89.00" y1="650.50" x2="92.00" y2="650.50" stroke="#657b88" stroke-width="1"/>
<line x1="85.10" y1="642.50" x2="95.70" y2="642.50" stroke="#62798a" stroke-width="1"/>
<rect x="94.35" y="622.15" width="1.70" height="1.70" fill="#161616"/>
<rect x="93.65" y="631.15" width="1.70" height="1.70" fill="#161616"/>
<rect x="91.55" y="634.85" width="1.70" height="1.70" fill="#161616"/>
<rect x="91.75" y="640.05" width="1.70" height="1.70" fill="#161616"/>
<rect x="84.65" y="644.65" width="1.70" height="1.70" fill="#161616"/>
<rect x="86.85" y="646.05" width="1.70" height="1.70" fill="#161616"/>
<rect x="85.35" y="648.95" width="1.70" height="1.70" fill="#161616"/>
<rect x="88.35" y="650.35" width="1.70" height="1.70" fill="#161616"/>
<line x1="108.50" y1="671.50" x2="108.50" y2="689.30" stroke="#657b88" stroke-width="1"/>
<line x1="107.00" y1="671.50" x2="110.00" y2="671.50" stroke="#657b88" stroke-width="1"/>
<line x1="107.00" y1="689.50" x2="110.00" y2="689.50" stroke="#657b88" stroke-width="1"/>
<line x1="103.30" y1="680.50" x2="113.90" y2="680.50" stroke="#62798a" stroke-width="1"/>
<rect x="105.05" y="665.65" width="1.70" height="1.70" fill="#161616"/>
<rect x="111.65" y="670.65" width="1.70" height="1.70" fill="#161616"/>
<rect x="110.05" y="674.05" width="1.70" height="1.70" fill="#161616"/>
<rect x="104.25" y="679.25" width="1.70" height="1.70" fill="#161616"/>
<rect x="109.55" y="680.65" width="1.70" height="1.70" fill="#161616"/>
<rect x="107.75" y="683.75" width="1.70" height="1.70" fill="#161616"/>
<rect x="110.85" y="685.85" width="1.70" height="1.70" fill="#161616"/>
<rect x="106.35" y="695.05" width="1.70" height="1.70" fill="#161616"/>
<line x1="123.50" y1="651.20" x2="123.50" y2="670.90" stroke="#657b88" stroke-width="1"/>
<line x1="122.00" y1="651.50" x2="125.00" y2="651.50" stroke="#657b88" stroke-width="1"/>
<line x1="122.00" y1="670.50" x2="125.00" y2="670.50" stroke="#657b88" stroke-width="1"/>
<line x1="118.20" y1="660.50" x2="128.80" y2="660.50" stroke="#62798a" stroke-width="1"/>
<rect x="125.35" y="651.15" width="1.70" height="1.70" fill="#161616"/>
<rect x="118.75" y="656.45" width="1.70" height="1.70" fill="#161616"/>
<rect x="121.85" y="654.85" width="1.70" height="1.70" fill="#161616"/>
<rect x="126.65" y="654.85" width="1.70" height="1.70" fill="#161616"/>
<rect x="124.55" y="657.45" width="1.70" height="1.70" fill="#161616"/>
<rect x="120.05" y="660.05" width="1.70" height="1.70" fill="#161616"/>
<rect x="123.45" y="661.65" width="1.70" height="1.70" fill="#161616"/>
<rect x="121.35" y="685.35" width="1.70" height="1.70" fill="#161616"/>
<line x1="140.50" y1="676.70" x2="140.50" y2="692.50" stroke="#657b88" stroke-width="1"/>
<line x1="139.00" y1="676.50" x2="142.00" y2="676.50" stroke="#657b88" stroke-width="1"/>
<line x1="139.00" y1="692.50" x2="142.00" y2="692.50" stroke="#657b88" stroke-width="1"/>
<line x1="135.30" y1="684.50" x2="145.90" y2="684.50" stroke="#62798a" stroke-width="1"/>
<rect x="143.65" y="667.45" width="1.70" height="1.70" fill="#161616"/>
<rect x="134.55" y="681.95" width="1.70" height="1.70" fill="#161616"/>
<rect x="138.45" y="682.75" width="1.70" height="1.70" fill="#161616"/>
<rect x="141.85" y="683.75" width="1.70" height="1.70" fill="#161616"/>
<rect x="137.15" y="685.85" width="1.70" height="1.70" fill="#161616"/>
<rect x="140.25" y="688.45" width="1.70" height="1.70" fill="#161616"/>
<rect x="139.25" y="695.05" width="1.70" height="1.70" fill="#161616"/>
<line x1="155.50" y1="644.10" x2="155.50" y2="672.30" stroke="#657b88" stroke-width="1"/>
<line x1="154.00" y1="644.50" x2="157.00" y2="644.50" stroke="#657b88" stroke-width="1"/>
<line x1="154.00" y1="672.50" x2="157.00" y2="672.50" stroke="#657b88" stroke-width="1"/>
<line x1="150.50" y1="658.50" x2="161.10" y2="658.50" stroke="#62798a" stroke-width="1"/>
<rect x="158.15" y="641.15" width="1.70" height="1.70" fill="#161616"/>
<rect x="152.35" y="645.95" width="1.70" height="1.70" fill="#161616"/>
<rect x="153.65" y="653.05" width="1.70" height="1.70" fill="#161616"/>
<rect x="159.45" y="651.65" width="1.70" height="1.70" fill="#161616"/>
<rect x="156.85" y="654.85" width="1.70" height="1.70" fill="#161616"/>
<rect x="160.25" y="668.75" width="1.70" height="1.70" fill="#161616"/>
<rect x="154.75" y="687.15" width="1.70" height="1.70" fill="#161616"/>
<line x1="174.50" y1="670.40" x2="174.50" y2="692.50" stroke="#657b88" stroke-width="1"/>
<line x1="173.00" y1="670.50" x2="176.00" y2="670.50" stroke="#657b88" stroke-width="1"/>
<line x1="173.00" y1="692.50" x2="176.00" y2="692.50" stroke="#657b88" stroke-width="1"/>
<line x1="168.90" y1="680.00" x2="179.50" y2="680.00" stroke="#a4b3bb" stroke-width="2"/>
<rect x="173.15" y="662.75" width="1.70" height="1.70" fill="#161616"/>
<rect x="177.85" y="679.25" width="1.70" height="1.70" fill="#161616"/>
<rect x="168.65" y="682.75" width="1.70" height="1.70" fill="#161616"/>
<rect x="170.75" y="684.55" width="1.70" height="1.70" fill="#161616"/>
<rect x="174.75" y="683.25" width="1.70" height="1.70" fill="#161616"/>
<rect x="171.25" y="687.15" width="1.70" height="1.70" fill="#161616"/>
<rect x="176.05" y="688.45" width="1.70" height="1.70" fill="#161616"/>
<rect x="174.75" y="691.15" width="1.70" height="1.70" fill="#161616"/>
<line x1="189.50" y1="647.30" x2="189.50" y2="665.70" stroke="#657b88" stroke-width="1"/>
<line x1="188.00" y1="647.50" x2="191.00" y2="647.50" stroke="#657b88" stroke-width="1"/>
<line x1="188.00" y1="665.50" x2="191.00" y2="665.50" stroke="#657b88" stroke-width="1"/>
<line x1="183.90" y1="656.50" x2="194.50" y2="656.50" stroke="#62798a" stroke-width="1"/>
<rect x="192.35" y="638.55" width="1.70" height="1.70" fill="#161616"/>
<rect x="184.45" y="649.55" width="1.70" height="1.70" fill="#161616"/>
<rect x="188.35" y="655.65" width="1.70" height="1.70" fill="#161616"/>
<rect x="184.95" y="658.25" width="1.70" height="1.70" fill="#161616"/>
<rect x="190.25" y="659.05" width="1.70" height="1.70" fill="#161616"/>
<rect x="192.35" y="660.15" width="1.70" height="1.70" fill="#161616"/>
<rect x="187.05" y="662.25" width="1.70" height="1.70" fill="#161616"/>
<rect x="186.25" y="672.75" width="1.70" height="1.70" fill="#161616"/>
<path d="M74.20,632.20 q0,-1.6 1.6,-1.6 H89.20 q1.6,0 1.6,1.6" fill="none" stroke="#8c8c8c" stroke-width="0.8"/>
<text x="82.50" y="628.2" font-size="5" text-anchor="middle" fill="#1e1e1e"><tspan font-style="italic">P</tspan> = 0.0010</text>
<path d="M107.20,632.20 q0,-1.6 1.6,-1.6 H122.90 q1.6,0 1.6,1.6" fill="none" stroke="#8c8c8c" stroke-width="0.8"/>
<text x="115.85" y="628.2" font-size="5" text-anchor="middle" fill="#1e1e1e"><tspan font-style="italic">P</tspan> = 0.0020</text>
<path d="M140.50,632.20 q0,-1.6 1.6,-1.6 H155.60 q1.6,0 1.6,1.6" fill="none" stroke="#8c8c8c" stroke-width="0.8"/>
<text x="148.85" y="628.2" font-size="5" text-anchor="middle" fill="#1e1e1e"><tspan font-style="italic">P</tspan> = 0.0011</text>
<path d="M173.60,632.20 q0,-1.6 1.6,-1.6 H189.00 q1.6,0 1.6,1.6" fill="none" stroke="#8c8c8c" stroke-width="0.8"/>
<text x="182.10" y="628.2" font-size="5" text-anchor="middle" fill="#1e1e1e"><tspan font-style="italic">P</tspan> = 0.0003</text>
<path d="M64.80,618.30 V702.10 H198.10" fill="none" stroke="#555555" stroke-width="1.6"/>
<line x1="62.20" y1="702.10" x2="64.80" y2="702.10" stroke="#555555" stroke-width="1.2"/>
<text x="59.00" y="704.60" font-size="7" text-anchor="end" fill="#2a2a2a" >0</text>
<line x1="62.20" y1="681.15" x2="64.80" y2="681.15" stroke="#555555" stroke-width="1.2"/>
<text x="59.00" y="683.65" font-size="7" text-anchor="end" fill="#2a2a2a" >0.5</text>
<line x1="62.20" y1="660.20" x2="64.80" y2="660.20" stroke="#555555" stroke-width="1.2"/>
<text x="59.00" y="662.70" font-size="7" text-anchor="end" fill="#2a2a2a" >1.0</text>
<line x1="62.20" y1="639.25" x2="64.80" y2="639.25" stroke="#555555" stroke-width="1.2"/>
<text x="59.00" y="641.75" font-size="7" text-anchor="end" fill="#2a2a2a" >1.5</text>
<line x1="62.20" y1="618.30" x2="64.80" y2="618.30" stroke="#555555" stroke-width="1.2"/>
<text x="59.00" y="620.80" font-size="7" text-anchor="end" fill="#2a2a2a" >2.0</text>
<text transform="translate(45.00,658.5) rotate(-90)" font-size="7.1" text-anchor="middle" fill="#1e1e1e">relative E2 production</text>
<text x="67.90" y="614.20" font-size="7" text-anchor="start" fill="#1e1e1e" >hormone (-), LPZ (-) = 1</text>
<text x="29.60" y="711.30" font-size="7.3" text-anchor="start" fill="#1e1e1e" >LPZ (1 nM)</text>
<text x="75.20" y="711.30" font-size="7.6" text-anchor="middle" fill="#1e1e1e" >−</text>
<text x="90.20" y="711.30" font-size="7.6" text-anchor="middle" fill="#1e1e1e" >+</text>
<text x="108.60" y="711.30" font-size="7.6" text-anchor="middle" fill="#1e1e1e" >−</text>
<text x="123.50" y="711.30" font-size="7.6" text-anchor="middle" fill="#1e1e1e" >+</text>
<text x="141.00" y="711.30" font-size="7.6" text-anchor="middle" fill="#1e1e1e" >−</text>
<text x="156.30" y="711.30" font-size="7.6" text-anchor="middle" fill="#1e1e1e" >+</text>
<text x="175.00" y="711.30" font-size="7.6" text-anchor="middle" fill="#1e1e1e" >−</text>
<text x="190.00" y="711.30" font-size="7.6" text-anchor="middle" fill="#1e1e1e" >+</text>
<line x1="68.4" y1="714.5" x2="97.3" y2="714.5" stroke="#222" stroke-width="0.9"/>
<line x1="101.7" y1="714.5" x2="130.1" y2="714.5" stroke="#222" stroke-width="0.9"/>
<line x1="134.6" y1="714.5" x2="163.7" y2="714.5" stroke="#222" stroke-width="0.9"/>
<line x1="168.2" y1="714.5" x2="197.1" y2="714.5" stroke="#222" stroke-width="0.9"/>
<text x="33.40" y="722.60" font-size="7" text-anchor="start" fill="#1e1e1e" >hormone</text>
<text x="82.80" y="723.60" font-size="7" text-anchor="middle" fill="#1e1e1e" >(-)</text>
<text x="116.00" y="721.60" font-size="7" text-anchor="middle" fill="#1e1e1e" >gastrin</text>
<text x="148.90" y="721.60" font-size="7" text-anchor="middle" fill="#1e1e1e" >histamine</text>
<text x="182.30" y="721.60" font-size="7" text-anchor="middle" fill="#1e1e1e" >ACh</text>
<text x="114.70" y="729.80" font-size="5.4" text-anchor="middle" fill="#1e1e1e" >100 pg/mL</text>
<text x="148.80" y="729.80" font-size="5.4" text-anchor="middle" fill="#1e1e1e" >100 pg/mL</text>
<text x="182.60" y="729.80" font-size="5.4" text-anchor="middle" fill="#1e1e1e" >100 nM</text>
</svg></body></html>
